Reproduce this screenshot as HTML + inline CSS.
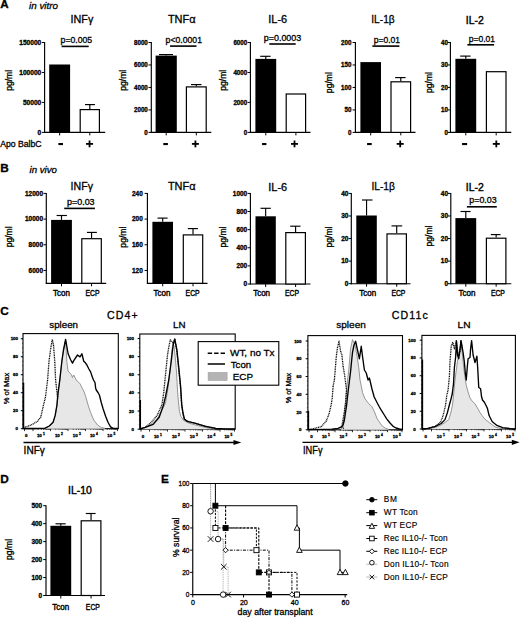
<!DOCTYPE html>
<html><head><meta charset="utf-8"><style>
html,body{margin:0;padding:0;background:#fff;}
body{width:520px;height:617px;overflow:hidden;}
svg{display:block;font-family:"Liberation Sans", sans-serif;}
text{stroke:#000;stroke-width:0.3px;}
</style></head><body>
<svg width="520" height="617" viewBox="0 0 520 617">
<rect width="520" height="617" fill="#fff"/>
<text x="0.20" y="8.10" font-size="11.6" text-anchor="start" font-weight="bold">A</text>
<text x="29.00" y="9.30" font-size="9.8" text-anchor="start" font-style="italic" textLength="29.00" lengthAdjust="spacingAndGlyphs">in vitro</text>
<text x="0.30" y="146.50" font-size="8.7" text-anchor="start" textLength="41.30" lengthAdjust="spacingAndGlyphs">Apo BalbC</text>
<rect x="58.40" y="143.00" width="4.60" height="2.10" fill="#000" stroke="none" stroke-width="1.1"/>
<rect x="86.05" y="143.00" width="7.00" height="1.80" fill="#000" stroke="none" stroke-width="1.1"/>
<rect x="88.65" y="140.50" width="1.80" height="6.80" fill="#000" stroke="none" stroke-width="1.1"/>
<line x1="44.60" y1="42.00" x2="44.60" y2="132.90" stroke="#000" stroke-width="1.15"/>
<line x1="44.10" y1="132.40" x2="105.20" y2="132.40" stroke="#000" stroke-width="1.15"/>
<line x1="41.80" y1="42.50" x2="44.60" y2="42.50" stroke="#000" stroke-width="1.0"/>
<text x="41.20" y="44.70" font-size="6.3" text-anchor="end" font-weight="bold" textLength="21.90" lengthAdjust="spacingAndGlyphs">150000</text>
<line x1="41.80" y1="72.47" x2="44.60" y2="72.47" stroke="#000" stroke-width="1.0"/>
<text x="41.20" y="74.67" font-size="6.3" text-anchor="end" font-weight="bold" textLength="21.90" lengthAdjust="spacingAndGlyphs">100000</text>
<line x1="41.80" y1="102.43" x2="44.60" y2="102.43" stroke="#000" stroke-width="1.0"/>
<text x="41.20" y="104.63" font-size="6.3" text-anchor="end" font-weight="bold" textLength="18.25" lengthAdjust="spacingAndGlyphs">50000</text>
<line x1="41.80" y1="132.40" x2="44.60" y2="132.40" stroke="#000" stroke-width="1.0"/>
<text x="41.20" y="134.60" font-size="6.3" text-anchor="end" font-weight="bold" textLength="3.65" lengthAdjust="spacingAndGlyphs">0</text>
<rect x="49.20" y="64.50" width="20.90" height="67.90" fill="#000" stroke="none" stroke-width="1.1"/>
<line x1="89.80" y1="109.00" x2="89.80" y2="104.60" stroke="#000" stroke-width="1.15"/>
<line x1="85.00" y1="104.60" x2="95.00" y2="104.60" stroke="#000" stroke-width="1.15"/>
<rect x="80.20" y="109.60" width="19.20" height="22.80" fill="#fff" stroke="#000" stroke-width="1.2"/>
<line x1="59.65" y1="132.40" x2="59.65" y2="135.40" stroke="#000" stroke-width="1.0"/>
<line x1="89.80" y1="132.40" x2="89.80" y2="135.40" stroke="#000" stroke-width="1.0"/>
<text x="81.90" y="22.70" font-size="10.7" text-anchor="middle" textLength="22.80" lengthAdjust="spacingAndGlyphs">INF&#947;</text>
<text x="60.60" y="42.90" font-size="8.8" text-anchor="start" textLength="31.60" lengthAdjust="spacingAndGlyphs">p=0.005</text>
<line x1="61.60" y1="46.40" x2="88.70" y2="46.40" stroke="#000" stroke-width="1.6"/>
<text transform="translate(11.75,80.35) rotate(-90)" x="0" y="0" font-size="8.4" text-anchor="middle" textLength="21.00" lengthAdjust="spacingAndGlyphs">pg/ml</text>
<rect x="163.30" y="143.00" width="4.60" height="2.10" fill="#000" stroke="none" stroke-width="1.1"/>
<rect x="191.90" y="143.00" width="7.00" height="1.80" fill="#000" stroke="none" stroke-width="1.1"/>
<rect x="194.50" y="140.50" width="1.80" height="6.80" fill="#000" stroke="none" stroke-width="1.1"/>
<line x1="151.30" y1="42.00" x2="151.30" y2="132.90" stroke="#000" stroke-width="1.15"/>
<line x1="150.80" y1="132.40" x2="211.30" y2="132.40" stroke="#000" stroke-width="1.15"/>
<line x1="148.50" y1="42.50" x2="151.30" y2="42.50" stroke="#000" stroke-width="1.0"/>
<text x="147.80" y="44.70" font-size="6.3" text-anchor="end" font-weight="bold" textLength="13.80" lengthAdjust="spacingAndGlyphs">8000</text>
<line x1="148.50" y1="64.97" x2="151.30" y2="64.97" stroke="#000" stroke-width="1.0"/>
<text x="147.80" y="67.17" font-size="6.3" text-anchor="end" font-weight="bold" textLength="13.80" lengthAdjust="spacingAndGlyphs">6000</text>
<line x1="148.50" y1="87.45" x2="151.30" y2="87.45" stroke="#000" stroke-width="1.0"/>
<text x="147.80" y="89.65" font-size="6.3" text-anchor="end" font-weight="bold" textLength="13.80" lengthAdjust="spacingAndGlyphs">4000</text>
<line x1="148.50" y1="109.93" x2="151.30" y2="109.93" stroke="#000" stroke-width="1.0"/>
<text x="147.80" y="112.13" font-size="6.3" text-anchor="end" font-weight="bold" textLength="13.80" lengthAdjust="spacingAndGlyphs">2000</text>
<line x1="148.50" y1="132.40" x2="151.30" y2="132.40" stroke="#000" stroke-width="1.0"/>
<text x="147.80" y="134.60" font-size="6.3" text-anchor="end" font-weight="bold" textLength="3.45" lengthAdjust="spacingAndGlyphs">0</text>
<rect x="155.60" y="55.60" width="21.20" height="76.80" fill="#000" stroke="none" stroke-width="1.1"/>
<line x1="166.20" y1="55.60" x2="166.20" y2="54.60" stroke="#000" stroke-width="1.15"/>
<line x1="159.00" y1="54.60" x2="173.00" y2="54.60" stroke="#000" stroke-width="1.15"/>
<line x1="196.30" y1="86.30" x2="196.30" y2="84.60" stroke="#000" stroke-width="1.15"/>
<line x1="191.00" y1="84.60" x2="201.50" y2="84.60" stroke="#000" stroke-width="1.15"/>
<rect x="186.40" y="86.90" width="19.80" height="45.50" fill="#fff" stroke="#000" stroke-width="1.2"/>
<line x1="166.20" y1="132.40" x2="166.20" y2="135.40" stroke="#000" stroke-width="1.0"/>
<line x1="196.30" y1="132.40" x2="196.30" y2="135.40" stroke="#000" stroke-width="1.0"/>
<text x="181.70" y="22.70" font-size="10.7" text-anchor="middle" textLength="27.60" lengthAdjust="spacingAndGlyphs">TNF&#945;</text>
<text x="165.60" y="42.50" font-size="8.8" text-anchor="start" textLength="36.40" lengthAdjust="spacingAndGlyphs">p&lt;0.0001</text>
<line x1="170.00" y1="46.10" x2="196.50" y2="46.10" stroke="#000" stroke-width="1.6"/>
<text transform="translate(126.15,80.25) rotate(-90)" x="0" y="0" font-size="8.4" text-anchor="middle" textLength="21.00" lengthAdjust="spacingAndGlyphs">pg/ml</text>
<rect x="262.10" y="143.00" width="4.30" height="2.10" fill="#000" stroke="none" stroke-width="1.1"/>
<rect x="291.00" y="143.00" width="7.00" height="1.80" fill="#000" stroke="none" stroke-width="1.1"/>
<rect x="293.60" y="140.50" width="1.80" height="6.80" fill="#000" stroke="none" stroke-width="1.1"/>
<line x1="250.40" y1="42.00" x2="250.40" y2="132.90" stroke="#000" stroke-width="1.15"/>
<line x1="249.90" y1="132.40" x2="310.50" y2="132.40" stroke="#000" stroke-width="1.15"/>
<line x1="247.60" y1="42.50" x2="250.40" y2="42.50" stroke="#000" stroke-width="1.0"/>
<text x="247.20" y="44.70" font-size="6.3" text-anchor="end" font-weight="bold" textLength="13.80" lengthAdjust="spacingAndGlyphs">6000</text>
<line x1="247.60" y1="72.47" x2="250.40" y2="72.47" stroke="#000" stroke-width="1.0"/>
<text x="247.20" y="74.67" font-size="6.3" text-anchor="end" font-weight="bold" textLength="13.80" lengthAdjust="spacingAndGlyphs">4000</text>
<line x1="247.60" y1="102.43" x2="250.40" y2="102.43" stroke="#000" stroke-width="1.0"/>
<text x="247.20" y="104.63" font-size="6.3" text-anchor="end" font-weight="bold" textLength="13.80" lengthAdjust="spacingAndGlyphs">2000</text>
<line x1="247.60" y1="132.40" x2="250.40" y2="132.40" stroke="#000" stroke-width="1.0"/>
<text x="247.20" y="134.60" font-size="6.3" text-anchor="end" font-weight="bold" textLength="3.45" lengthAdjust="spacingAndGlyphs">0</text>
<rect x="255.40" y="58.90" width="20.80" height="73.50" fill="#000" stroke="none" stroke-width="1.1"/>
<line x1="265.80" y1="58.90" x2="265.80" y2="56.30" stroke="#000" stroke-width="1.15"/>
<line x1="260.20" y1="56.30" x2="270.60" y2="56.30" stroke="#000" stroke-width="1.15"/>
<rect x="286.20" y="94.00" width="19.40" height="38.40" fill="#fff" stroke="#000" stroke-width="1.2"/>
<line x1="265.80" y1="132.40" x2="265.80" y2="135.40" stroke="#000" stroke-width="1.0"/>
<line x1="295.90" y1="132.40" x2="295.90" y2="135.40" stroke="#000" stroke-width="1.0"/>
<text x="277.70" y="22.50" font-size="10.7" text-anchor="middle" textLength="18.90" lengthAdjust="spacingAndGlyphs">IL-6</text>
<text x="263.80" y="40.60" font-size="8.9" text-anchor="start" textLength="37.40" lengthAdjust="spacingAndGlyphs">p=0.0003</text>
<line x1="269.30" y1="44.00" x2="295.70" y2="44.00" stroke="#000" stroke-width="1.6"/>
<text transform="translate(225.85,80.25) rotate(-90)" x="0" y="0" font-size="8.4" text-anchor="middle" textLength="21.00" lengthAdjust="spacingAndGlyphs">pg/ml</text>
<rect x="367.10" y="143.00" width="4.60" height="2.10" fill="#000" stroke="none" stroke-width="1.1"/>
<rect x="396.70" y="143.00" width="7.00" height="1.80" fill="#000" stroke="none" stroke-width="1.1"/>
<rect x="399.30" y="140.50" width="1.80" height="6.80" fill="#000" stroke="none" stroke-width="1.1"/>
<line x1="355.40" y1="42.00" x2="355.40" y2="132.90" stroke="#000" stroke-width="1.15"/>
<line x1="354.90" y1="132.40" x2="415.50" y2="132.40" stroke="#000" stroke-width="1.15"/>
<line x1="352.60" y1="42.50" x2="355.40" y2="42.50" stroke="#000" stroke-width="1.0"/>
<text x="351.40" y="44.70" font-size="6.3" text-anchor="end" font-weight="bold" textLength="10.35" lengthAdjust="spacingAndGlyphs">200</text>
<line x1="352.60" y1="64.97" x2="355.40" y2="64.97" stroke="#000" stroke-width="1.0"/>
<text x="351.40" y="67.17" font-size="6.3" text-anchor="end" font-weight="bold" textLength="10.35" lengthAdjust="spacingAndGlyphs">150</text>
<line x1="352.60" y1="87.45" x2="355.40" y2="87.45" stroke="#000" stroke-width="1.0"/>
<text x="351.40" y="89.65" font-size="6.3" text-anchor="end" font-weight="bold" textLength="10.35" lengthAdjust="spacingAndGlyphs">100</text>
<line x1="352.60" y1="109.93" x2="355.40" y2="109.93" stroke="#000" stroke-width="1.0"/>
<text x="351.40" y="112.13" font-size="6.3" text-anchor="end" font-weight="bold" textLength="6.90" lengthAdjust="spacingAndGlyphs">50</text>
<line x1="352.60" y1="132.40" x2="355.40" y2="132.40" stroke="#000" stroke-width="1.0"/>
<text x="351.40" y="134.60" font-size="6.3" text-anchor="end" font-weight="bold" textLength="3.45" lengthAdjust="spacingAndGlyphs">0</text>
<rect x="360.40" y="62.10" width="20.60" height="70.30" fill="#000" stroke="none" stroke-width="1.1"/>
<line x1="400.80" y1="81.20" x2="400.80" y2="77.60" stroke="#000" stroke-width="1.15"/>
<line x1="395.10" y1="77.60" x2="405.60" y2="77.60" stroke="#000" stroke-width="1.15"/>
<rect x="391.00" y="81.80" width="19.60" height="50.60" fill="#fff" stroke="#000" stroke-width="1.2"/>
<line x1="370.70" y1="132.40" x2="370.70" y2="135.40" stroke="#000" stroke-width="1.0"/>
<line x1="400.80" y1="132.40" x2="400.80" y2="135.40" stroke="#000" stroke-width="1.0"/>
<text x="383.00" y="22.70" font-size="10.7" text-anchor="middle" textLength="23.40" lengthAdjust="spacingAndGlyphs">IL-1&#946;</text>
<text x="373.80" y="43.00" font-size="8.8" text-anchor="start" textLength="26.30" lengthAdjust="spacingAndGlyphs">p=0.01</text>
<line x1="372.40" y1="46.10" x2="399.40" y2="46.10" stroke="#000" stroke-width="1.6"/>
<text transform="translate(332.35,82.65) rotate(-90)" x="0" y="0" font-size="8.4" text-anchor="middle" textLength="21.00" lengthAdjust="spacingAndGlyphs">pg/ml</text>
<rect x="462.10" y="143.00" width="5.00" height="2.10" fill="#000" stroke="none" stroke-width="1.1"/>
<rect x="492.80" y="143.00" width="7.00" height="1.80" fill="#000" stroke="none" stroke-width="1.1"/>
<rect x="495.40" y="140.50" width="1.80" height="6.80" fill="#000" stroke="none" stroke-width="1.1"/>
<line x1="450.40" y1="42.00" x2="450.40" y2="132.90" stroke="#000" stroke-width="1.15"/>
<line x1="449.90" y1="132.40" x2="511.30" y2="132.40" stroke="#000" stroke-width="1.15"/>
<line x1="447.60" y1="42.50" x2="450.40" y2="42.50" stroke="#000" stroke-width="1.0"/>
<text x="448.00" y="44.70" font-size="6.3" text-anchor="end" font-weight="bold" textLength="6.90" lengthAdjust="spacingAndGlyphs">40</text>
<line x1="447.60" y1="64.97" x2="450.40" y2="64.97" stroke="#000" stroke-width="1.0"/>
<text x="448.00" y="67.17" font-size="6.3" text-anchor="end" font-weight="bold" textLength="6.90" lengthAdjust="spacingAndGlyphs">30</text>
<line x1="447.60" y1="87.45" x2="450.40" y2="87.45" stroke="#000" stroke-width="1.0"/>
<text x="448.00" y="89.65" font-size="6.3" text-anchor="end" font-weight="bold" textLength="6.90" lengthAdjust="spacingAndGlyphs">20</text>
<line x1="447.60" y1="109.93" x2="450.40" y2="109.93" stroke="#000" stroke-width="1.0"/>
<text x="448.00" y="112.13" font-size="6.3" text-anchor="end" font-weight="bold" textLength="6.90" lengthAdjust="spacingAndGlyphs">10</text>
<line x1="447.60" y1="132.40" x2="450.40" y2="132.40" stroke="#000" stroke-width="1.0"/>
<text x="448.00" y="134.60" font-size="6.3" text-anchor="end" font-weight="bold" textLength="3.45" lengthAdjust="spacingAndGlyphs">0</text>
<rect x="455.40" y="58.80" width="20.80" height="73.60" fill="#000" stroke="none" stroke-width="1.1"/>
<line x1="465.80" y1="58.80" x2="465.80" y2="56.10" stroke="#000" stroke-width="1.15"/>
<line x1="460.20" y1="56.10" x2="470.60" y2="56.10" stroke="#000" stroke-width="1.15"/>
<rect x="486.40" y="71.70" width="19.60" height="60.70" fill="#fff" stroke="#000" stroke-width="1.2"/>
<line x1="465.80" y1="132.40" x2="465.80" y2="135.40" stroke="#000" stroke-width="1.0"/>
<line x1="496.20" y1="132.40" x2="496.20" y2="135.40" stroke="#000" stroke-width="1.0"/>
<text x="474.80" y="23.60" font-size="10.6" text-anchor="middle" style="stroke-width:0.4px" textLength="18.00" lengthAdjust="spacingAndGlyphs">IL-2</text>
<text x="468.80" y="41.60" font-size="8.8" text-anchor="start" textLength="26.30" lengthAdjust="spacingAndGlyphs">p=0.01</text>
<line x1="467.40" y1="44.80" x2="494.10" y2="44.80" stroke="#000" stroke-width="1.6"/>
<text transform="translate(432.20,82.55) rotate(-90)" x="0" y="0" font-size="8.4" text-anchor="middle" textLength="21.00" lengthAdjust="spacingAndGlyphs">pg/ml</text>
<text x="0.20" y="171.50" font-size="11.8" text-anchor="start" font-weight="bold">B</text>
<text x="29.50" y="172.80" font-size="9.8" text-anchor="start" font-style="italic" textLength="27.50" lengthAdjust="spacingAndGlyphs">in vivo</text>
<line x1="46.30" y1="192.90" x2="46.30" y2="283.80" stroke="#000" stroke-width="1.15"/>
<line x1="45.80" y1="283.30" x2="106.20" y2="283.30" stroke="#000" stroke-width="1.15"/>
<line x1="43.50" y1="193.40" x2="46.30" y2="193.40" stroke="#000" stroke-width="1.0"/>
<text x="43.00" y="195.60" font-size="6.3" text-anchor="end" font-weight="bold" textLength="18.00" lengthAdjust="spacingAndGlyphs">12000</text>
<line x1="43.50" y1="219.09" x2="46.30" y2="219.09" stroke="#000" stroke-width="1.0"/>
<text x="43.00" y="221.29" font-size="6.3" text-anchor="end" font-weight="bold" textLength="18.00" lengthAdjust="spacingAndGlyphs">10000</text>
<line x1="43.50" y1="244.77" x2="46.30" y2="244.77" stroke="#000" stroke-width="1.0"/>
<text x="43.00" y="246.97" font-size="6.3" text-anchor="end" font-weight="bold" textLength="14.40" lengthAdjust="spacingAndGlyphs">8000</text>
<line x1="43.50" y1="270.46" x2="46.30" y2="270.46" stroke="#000" stroke-width="1.0"/>
<text x="43.00" y="272.66" font-size="6.3" text-anchor="end" font-weight="bold" textLength="14.40" lengthAdjust="spacingAndGlyphs">6000</text>
<rect x="51.10" y="219.90" width="20.80" height="63.40" fill="#000" stroke="none" stroke-width="1.1"/>
<line x1="61.50" y1="219.90" x2="61.50" y2="215.50" stroke="#000" stroke-width="1.15"/>
<line x1="56.60" y1="215.50" x2="66.90" y2="215.50" stroke="#000" stroke-width="1.15"/>
<line x1="91.55" y1="238.10" x2="91.55" y2="232.40" stroke="#000" stroke-width="1.15"/>
<line x1="86.90" y1="232.40" x2="96.90" y2="232.40" stroke="#000" stroke-width="1.15"/>
<rect x="81.80" y="238.70" width="19.50" height="44.60" fill="#fff" stroke="#000" stroke-width="1.2"/>
<line x1="61.50" y1="283.30" x2="61.50" y2="286.30" stroke="#000" stroke-width="1.0"/>
<line x1="91.55" y1="283.30" x2="91.55" y2="286.30" stroke="#000" stroke-width="1.0"/>
<text x="81.80" y="189.50" font-size="10.7" text-anchor="middle" textLength="22.40" lengthAdjust="spacingAndGlyphs">INF&#947;</text>
<text x="67.00" y="204.90" font-size="8.8" text-anchor="start" textLength="27.60" lengthAdjust="spacingAndGlyphs">p=0.03</text>
<line x1="64.20" y1="208.40" x2="94.90" y2="208.40" stroke="#000" stroke-width="1.6"/>
<text transform="translate(11.60,236.85) rotate(-90)" x="0" y="0" font-size="8.4" text-anchor="middle" textLength="21.00" lengthAdjust="spacingAndGlyphs">pg/ml</text>
<text x="61.55" y="295.60" font-size="8.4" text-anchor="middle" style="stroke-width:0.4px" textLength="16.90" lengthAdjust="spacingAndGlyphs">Tcon</text>
<text x="92.50" y="295.60" font-size="8.4" text-anchor="middle" style="stroke-width:0.4px" textLength="14.00" lengthAdjust="spacingAndGlyphs">ECP</text>
<line x1="147.40" y1="192.90" x2="147.40" y2="283.80" stroke="#000" stroke-width="1.15"/>
<line x1="146.90" y1="283.30" x2="207.50" y2="283.30" stroke="#000" stroke-width="1.15"/>
<line x1="144.60" y1="193.40" x2="147.40" y2="193.40" stroke="#000" stroke-width="1.0"/>
<text x="142.80" y="195.60" font-size="6.3" text-anchor="end" font-weight="bold" textLength="10.80" lengthAdjust="spacingAndGlyphs">240</text>
<line x1="144.60" y1="219.09" x2="147.40" y2="219.09" stroke="#000" stroke-width="1.0"/>
<text x="142.80" y="221.29" font-size="6.3" text-anchor="end" font-weight="bold" textLength="10.80" lengthAdjust="spacingAndGlyphs">200</text>
<line x1="144.60" y1="244.77" x2="147.40" y2="244.77" stroke="#000" stroke-width="1.0"/>
<text x="142.80" y="246.97" font-size="6.3" text-anchor="end" font-weight="bold" textLength="10.80" lengthAdjust="spacingAndGlyphs">160</text>
<line x1="144.60" y1="270.46" x2="147.40" y2="270.46" stroke="#000" stroke-width="1.0"/>
<text x="142.80" y="272.66" font-size="6.3" text-anchor="end" font-weight="bold" textLength="10.80" lengthAdjust="spacingAndGlyphs">120</text>
<rect x="152.40" y="221.80" width="20.60" height="61.50" fill="#000" stroke="none" stroke-width="1.1"/>
<line x1="162.70" y1="221.80" x2="162.70" y2="218.10" stroke="#000" stroke-width="1.15"/>
<line x1="157.50" y1="218.10" x2="167.60" y2="218.10" stroke="#000" stroke-width="1.15"/>
<line x1="193.00" y1="234.30" x2="193.00" y2="228.60" stroke="#000" stroke-width="1.15"/>
<line x1="187.80" y1="228.60" x2="197.90" y2="228.60" stroke="#000" stroke-width="1.15"/>
<rect x="183.30" y="234.90" width="19.40" height="48.40" fill="#fff" stroke="#000" stroke-width="1.2"/>
<line x1="162.70" y1="283.30" x2="162.70" y2="286.30" stroke="#000" stroke-width="1.0"/>
<line x1="193.00" y1="283.30" x2="193.00" y2="286.30" stroke="#000" stroke-width="1.0"/>
<text x="181.70" y="189.50" font-size="10.7" text-anchor="middle" textLength="27.60" lengthAdjust="spacingAndGlyphs">TNF&#945;</text>
<text transform="translate(126.15,237.15) rotate(-90)" x="0" y="0" font-size="8.4" text-anchor="middle" textLength="21.00" lengthAdjust="spacingAndGlyphs">pg/ml</text>
<text x="162.00" y="295.60" font-size="8.4" text-anchor="middle" style="stroke-width:0.4px" textLength="16.90" lengthAdjust="spacingAndGlyphs">Tcon</text>
<text x="192.60" y="295.60" font-size="8.4" text-anchor="middle" style="stroke-width:0.4px" textLength="14.00" lengthAdjust="spacingAndGlyphs">ECP</text>
<line x1="250.40" y1="192.90" x2="250.40" y2="284.50" stroke="#000" stroke-width="1.15"/>
<line x1="249.90" y1="284.00" x2="310.50" y2="284.00" stroke="#000" stroke-width="1.15"/>
<line x1="247.60" y1="193.40" x2="250.40" y2="193.40" stroke="#000" stroke-width="1.0"/>
<text x="247.20" y="195.60" font-size="6.3" text-anchor="end" font-weight="bold" textLength="14.40" lengthAdjust="spacingAndGlyphs">1000</text>
<line x1="247.60" y1="211.52" x2="250.40" y2="211.52" stroke="#000" stroke-width="1.0"/>
<text x="247.20" y="213.72" font-size="6.3" text-anchor="end" font-weight="bold" textLength="10.80" lengthAdjust="spacingAndGlyphs">800</text>
<line x1="247.60" y1="229.64" x2="250.40" y2="229.64" stroke="#000" stroke-width="1.0"/>
<text x="247.20" y="231.84" font-size="6.3" text-anchor="end" font-weight="bold" textLength="10.80" lengthAdjust="spacingAndGlyphs">600</text>
<line x1="247.60" y1="247.76" x2="250.40" y2="247.76" stroke="#000" stroke-width="1.0"/>
<text x="247.20" y="249.96" font-size="6.3" text-anchor="end" font-weight="bold" textLength="10.80" lengthAdjust="spacingAndGlyphs">400</text>
<line x1="247.60" y1="265.88" x2="250.40" y2="265.88" stroke="#000" stroke-width="1.0"/>
<text x="247.20" y="268.08" font-size="6.3" text-anchor="end" font-weight="bold" textLength="10.80" lengthAdjust="spacingAndGlyphs">200</text>
<line x1="247.60" y1="284.00" x2="250.40" y2="284.00" stroke="#000" stroke-width="1.0"/>
<text x="247.20" y="286.20" font-size="6.3" text-anchor="end" font-weight="bold" textLength="3.60" lengthAdjust="spacingAndGlyphs">0</text>
<rect x="255.50" y="216.30" width="20.30" height="67.70" fill="#000" stroke="none" stroke-width="1.1"/>
<line x1="265.65" y1="216.30" x2="265.65" y2="208.30" stroke="#000" stroke-width="1.15"/>
<line x1="260.50" y1="208.30" x2="270.80" y2="208.30" stroke="#000" stroke-width="1.15"/>
<line x1="295.60" y1="232.00" x2="295.60" y2="226.20" stroke="#000" stroke-width="1.15"/>
<line x1="290.20" y1="226.20" x2="300.50" y2="226.20" stroke="#000" stroke-width="1.15"/>
<rect x="285.80" y="232.60" width="19.60" height="51.40" fill="#fff" stroke="#000" stroke-width="1.2"/>
<line x1="265.65" y1="284.00" x2="265.65" y2="287.00" stroke="#000" stroke-width="1.0"/>
<line x1="295.60" y1="284.00" x2="295.60" y2="287.00" stroke="#000" stroke-width="1.0"/>
<text x="277.70" y="190.60" font-size="10.7" text-anchor="middle" textLength="18.90" lengthAdjust="spacingAndGlyphs">IL-6</text>
<text transform="translate(226.00,237.00) rotate(-90)" x="0" y="0" font-size="8.4" text-anchor="middle" textLength="21.00" lengthAdjust="spacingAndGlyphs">pg/ml</text>
<text x="261.60" y="295.60" font-size="8.4" text-anchor="middle" style="stroke-width:0.4px" textLength="16.90" lengthAdjust="spacingAndGlyphs">Tcon</text>
<text x="292.00" y="295.60" font-size="8.4" text-anchor="middle" style="stroke-width:0.4px" textLength="14.00" lengthAdjust="spacingAndGlyphs">ECP</text>
<line x1="351.30" y1="192.90" x2="351.30" y2="284.20" stroke="#000" stroke-width="1.15"/>
<line x1="350.80" y1="283.70" x2="410.50" y2="283.70" stroke="#000" stroke-width="1.15"/>
<line x1="348.50" y1="193.40" x2="351.30" y2="193.40" stroke="#000" stroke-width="1.0"/>
<text x="348.40" y="195.60" font-size="6.3" text-anchor="end" font-weight="bold" textLength="7.20" lengthAdjust="spacingAndGlyphs">40</text>
<line x1="348.50" y1="215.97" x2="351.30" y2="215.97" stroke="#000" stroke-width="1.0"/>
<text x="348.40" y="218.17" font-size="6.3" text-anchor="end" font-weight="bold" textLength="7.20" lengthAdjust="spacingAndGlyphs">30</text>
<line x1="348.50" y1="238.55" x2="351.30" y2="238.55" stroke="#000" stroke-width="1.0"/>
<text x="348.40" y="240.75" font-size="6.3" text-anchor="end" font-weight="bold" textLength="7.20" lengthAdjust="spacingAndGlyphs">20</text>
<line x1="348.50" y1="261.12" x2="351.30" y2="261.12" stroke="#000" stroke-width="1.0"/>
<text x="348.40" y="263.32" font-size="6.3" text-anchor="end" font-weight="bold" textLength="7.20" lengthAdjust="spacingAndGlyphs">10</text>
<line x1="348.50" y1="283.70" x2="351.30" y2="283.70" stroke="#000" stroke-width="1.0"/>
<text x="348.40" y="285.90" font-size="6.3" text-anchor="end" font-weight="bold" textLength="3.60" lengthAdjust="spacingAndGlyphs">0</text>
<rect x="356.30" y="215.50" width="20.50" height="68.20" fill="#000" stroke="none" stroke-width="1.1"/>
<line x1="366.55" y1="215.50" x2="366.55" y2="200.00" stroke="#000" stroke-width="1.15"/>
<line x1="362.00" y1="200.00" x2="372.50" y2="200.00" stroke="#000" stroke-width="1.15"/>
<line x1="396.70" y1="233.30" x2="396.70" y2="225.90" stroke="#000" stroke-width="1.15"/>
<line x1="391.50" y1="225.90" x2="402.20" y2="225.90" stroke="#000" stroke-width="1.15"/>
<rect x="387.00" y="233.90" width="19.40" height="49.80" fill="#fff" stroke="#000" stroke-width="1.2"/>
<line x1="366.55" y1="283.70" x2="366.55" y2="286.70" stroke="#000" stroke-width="1.0"/>
<line x1="396.70" y1="283.70" x2="396.70" y2="286.70" stroke="#000" stroke-width="1.0"/>
<text x="383.20" y="189.80" font-size="10.7" text-anchor="middle" textLength="23.60" lengthAdjust="spacingAndGlyphs">IL-1&#946;</text>
<text transform="translate(332.45,237.00) rotate(-90)" x="0" y="0" font-size="8.4" text-anchor="middle" textLength="21.00" lengthAdjust="spacingAndGlyphs">pg/ml</text>
<text x="367.75" y="295.60" font-size="8.4" text-anchor="middle" style="stroke-width:0.4px" textLength="16.90" lengthAdjust="spacingAndGlyphs">Tcon</text>
<text x="398.40" y="295.60" font-size="8.4" text-anchor="middle" style="stroke-width:0.4px" textLength="14.00" lengthAdjust="spacingAndGlyphs">ECP</text>
<line x1="450.80" y1="192.90" x2="450.80" y2="284.20" stroke="#000" stroke-width="1.15"/>
<line x1="450.30" y1="283.70" x2="511.30" y2="283.70" stroke="#000" stroke-width="1.15"/>
<line x1="448.00" y1="193.40" x2="450.80" y2="193.40" stroke="#000" stroke-width="1.0"/>
<text x="448.00" y="195.60" font-size="6.3" text-anchor="end" font-weight="bold" textLength="7.20" lengthAdjust="spacingAndGlyphs">40</text>
<line x1="448.00" y1="215.97" x2="450.80" y2="215.97" stroke="#000" stroke-width="1.0"/>
<text x="448.00" y="218.17" font-size="6.3" text-anchor="end" font-weight="bold" textLength="7.20" lengthAdjust="spacingAndGlyphs">30</text>
<line x1="448.00" y1="238.55" x2="450.80" y2="238.55" stroke="#000" stroke-width="1.0"/>
<text x="448.00" y="240.75" font-size="6.3" text-anchor="end" font-weight="bold" textLength="7.20" lengthAdjust="spacingAndGlyphs">20</text>
<line x1="448.00" y1="261.12" x2="450.80" y2="261.12" stroke="#000" stroke-width="1.0"/>
<text x="448.00" y="263.32" font-size="6.3" text-anchor="end" font-weight="bold" textLength="7.20" lengthAdjust="spacingAndGlyphs">10</text>
<line x1="448.00" y1="283.70" x2="450.80" y2="283.70" stroke="#000" stroke-width="1.0"/>
<text x="448.00" y="285.90" font-size="6.3" text-anchor="end" font-weight="bold" textLength="3.60" lengthAdjust="spacingAndGlyphs">0</text>
<rect x="455.40" y="218.10" width="20.80" height="65.60" fill="#000" stroke="none" stroke-width="1.1"/>
<line x1="465.80" y1="218.10" x2="465.80" y2="211.50" stroke="#000" stroke-width="1.15"/>
<line x1="460.50" y1="211.50" x2="470.60" y2="211.50" stroke="#000" stroke-width="1.15"/>
<line x1="496.15" y1="237.60" x2="496.15" y2="234.60" stroke="#000" stroke-width="1.15"/>
<line x1="490.80" y1="234.60" x2="500.50" y2="234.60" stroke="#000" stroke-width="1.15"/>
<rect x="486.40" y="238.20" width="19.50" height="45.50" fill="#fff" stroke="#000" stroke-width="1.2"/>
<line x1="465.80" y1="283.70" x2="465.80" y2="286.70" stroke="#000" stroke-width="1.0"/>
<line x1="496.15" y1="283.70" x2="496.15" y2="286.70" stroke="#000" stroke-width="1.0"/>
<text x="474.80" y="190.50" font-size="10.6" text-anchor="middle" style="stroke-width:0.4px" textLength="18.00" lengthAdjust="spacingAndGlyphs">IL-2</text>
<text x="469.30" y="203.10" font-size="8.8" text-anchor="start" textLength="27.40" lengthAdjust="spacingAndGlyphs">p=0.03</text>
<line x1="466.90" y1="206.80" x2="496.80" y2="206.80" stroke="#000" stroke-width="1.6"/>
<text transform="translate(432.20,236.00) rotate(-90)" x="0" y="0" font-size="8.4" text-anchor="middle" textLength="21.00" lengthAdjust="spacingAndGlyphs">pg/ml</text>
<text x="466.90" y="295.60" font-size="8.4" text-anchor="middle" style="stroke-width:0.4px" textLength="16.90" lengthAdjust="spacingAndGlyphs">Tcon</text>
<text x="497.90" y="295.60" font-size="8.4" text-anchor="middle" style="stroke-width:0.4px" textLength="14.00" lengthAdjust="spacingAndGlyphs">ECP</text>
<text x="0.20" y="482.50" font-size="11.8" text-anchor="start" font-weight="bold">D</text>
<line x1="46.00" y1="505.20" x2="46.00" y2="596.00" stroke="#000" stroke-width="1.15"/>
<line x1="45.50" y1="595.50" x2="105.00" y2="595.50" stroke="#000" stroke-width="1.15"/>
<line x1="43.20" y1="505.70" x2="46.00" y2="505.70" stroke="#000" stroke-width="1.0"/>
<text x="42.20" y="507.90" font-size="6.5" text-anchor="end" font-weight="bold" textLength="10.80" lengthAdjust="spacingAndGlyphs">500</text>
<line x1="43.20" y1="523.66" x2="46.00" y2="523.66" stroke="#000" stroke-width="1.0"/>
<text x="42.20" y="525.86" font-size="6.5" text-anchor="end" font-weight="bold" textLength="10.80" lengthAdjust="spacingAndGlyphs">400</text>
<line x1="43.20" y1="541.62" x2="46.00" y2="541.62" stroke="#000" stroke-width="1.0"/>
<text x="42.20" y="543.82" font-size="6.5" text-anchor="end" font-weight="bold" textLength="10.80" lengthAdjust="spacingAndGlyphs">300</text>
<line x1="43.20" y1="559.58" x2="46.00" y2="559.58" stroke="#000" stroke-width="1.0"/>
<text x="42.20" y="561.78" font-size="6.5" text-anchor="end" font-weight="bold" textLength="10.80" lengthAdjust="spacingAndGlyphs">200</text>
<line x1="43.20" y1="577.54" x2="46.00" y2="577.54" stroke="#000" stroke-width="1.0"/>
<text x="42.20" y="579.74" font-size="6.5" text-anchor="end" font-weight="bold" textLength="10.80" lengthAdjust="spacingAndGlyphs">100</text>
<line x1="43.20" y1="595.50" x2="46.00" y2="595.50" stroke="#000" stroke-width="1.0"/>
<text x="42.20" y="597.70" font-size="6.5" text-anchor="end" font-weight="bold" textLength="3.60" lengthAdjust="spacingAndGlyphs">0</text>
<rect x="50.40" y="525.80" width="20.80" height="69.70" fill="#000" stroke="none" stroke-width="1.1"/>
<line x1="60.80" y1="525.80" x2="60.80" y2="523.80" stroke="#000" stroke-width="1.15"/>
<line x1="55.50" y1="523.80" x2="65.60" y2="523.80" stroke="#000" stroke-width="1.15"/>
<line x1="91.05" y1="520.20" x2="91.05" y2="513.50" stroke="#000" stroke-width="1.15"/>
<line x1="85.80" y1="513.50" x2="95.60" y2="513.50" stroke="#000" stroke-width="1.15"/>
<rect x="81.20" y="520.80" width="19.70" height="74.70" fill="#fff" stroke="#000" stroke-width="1.2"/>
<line x1="60.80" y1="595.50" x2="60.80" y2="598.50" stroke="#000" stroke-width="1.0"/>
<line x1="91.05" y1="595.50" x2="91.05" y2="598.50" stroke="#000" stroke-width="1.0"/>
<text x="80.00" y="493.80" font-size="10.6" text-anchor="middle" style="stroke-width:0.4px" textLength="23.80" lengthAdjust="spacingAndGlyphs">IL-10</text>
<text transform="translate(11.75,549.40) rotate(-90)" x="0" y="0" font-size="8.4" text-anchor="middle" textLength="21.00" lengthAdjust="spacingAndGlyphs">pg/ml</text>
<text x="60.65" y="610.40" font-size="8.4" text-anchor="middle" style="stroke-width:0.4px" textLength="16.90" lengthAdjust="spacingAndGlyphs">Tcon</text>
<text x="92.85" y="610.40" font-size="8.4" text-anchor="middle" style="stroke-width:0.4px" textLength="14.00" lengthAdjust="spacingAndGlyphs">ECP</text>
<text x="0.20" y="315.30" font-size="11.8" text-anchor="start" font-weight="bold">C</text>
<text x="106.9" y="318.8" font-size="10.6" style="stroke-width:0.3px" textLength="30.7" lengthAdjust="spacing">CD4+</text>
<text x="391.7" y="318.8" font-size="10.6" style="stroke-width:0.3px" textLength="36.2" lengthAdjust="spacing">CD11c</text>
<text x="49.30" y="327.80" font-size="9.8" text-anchor="start" textLength="28.70" lengthAdjust="spacingAndGlyphs">spleen</text>
<text x="173.00" y="328.40" font-size="9.8" text-anchor="start" textLength="12.50" lengthAdjust="spacingAndGlyphs">LN</text>
<text x="336.30" y="327.80" font-size="9.8" text-anchor="start" textLength="29.50" lengthAdjust="spacingAndGlyphs">spleen</text>
<text x="457.50" y="328.40" font-size="9.8" text-anchor="start" textLength="13.00" lengthAdjust="spacingAndGlyphs">LN</text>
<text transform="translate(9.30,388.50) rotate(-90)" x="0" y="0" font-size="7.8" text-anchor="middle" textLength="31.50" lengthAdjust="spacingAndGlyphs">% of Max</text>
<text transform="translate(291.40,388.00) rotate(-90)" x="0" y="0" font-size="7.8" text-anchor="middle" textLength="30.50" lengthAdjust="spacingAndGlyphs">% of Max</text>
<line x1="23.50" y1="442.50" x2="236.00" y2="442.50" stroke="#000" stroke-width="1.3"/>
<path d="M233.5,439.9 L241.3,442.5 L233.5,445.1 Z" fill="#000"/>
<line x1="302.50" y1="442.30" x2="514.00" y2="442.30" stroke="#000" stroke-width="1.3"/>
<path d="M511.8,439.7 L519.6,442.3 L511.8,444.9 Z" fill="#000"/>
<text x="23.60" y="454.40" font-size="10.0" text-anchor="start" textLength="21.30" lengthAdjust="spacingAndGlyphs">INF&#947;</text>
<text x="303.00" y="454.00" font-size="10.0" text-anchor="start" textLength="19.50" lengthAdjust="spacingAndGlyphs">INF&#947;</text>
<rect x="23.00" y="333.60" width="95.30" height="95.10" fill="none" stroke="#000" stroke-width="1.1"/>
<line x1="20.80" y1="338.75" x2="23.00" y2="338.75" stroke="#000" stroke-width="1.0"/>
<text x="18.00" y="340.25" font-size="4.4" text-anchor="end" font-weight="bold">100</text>
<line x1="20.80" y1="356.74" x2="23.00" y2="356.74" stroke="#000" stroke-width="1.0"/>
<text x="18.00" y="358.24" font-size="4.4" text-anchor="end" font-weight="bold">80</text>
<line x1="20.80" y1="374.73" x2="23.00" y2="374.73" stroke="#000" stroke-width="1.0"/>
<text x="18.00" y="376.23" font-size="4.4" text-anchor="end" font-weight="bold">60</text>
<line x1="20.80" y1="392.72" x2="23.00" y2="392.72" stroke="#000" stroke-width="1.0"/>
<text x="18.00" y="394.22" font-size="4.4" text-anchor="end" font-weight="bold">40</text>
<line x1="20.80" y1="410.71" x2="23.00" y2="410.71" stroke="#000" stroke-width="1.0"/>
<text x="18.00" y="412.21" font-size="4.4" text-anchor="end" font-weight="bold">20</text>
<line x1="20.80" y1="428.70" x2="23.00" y2="428.70" stroke="#000" stroke-width="1.0"/>
<text x="18.00" y="430.20" font-size="4.4" text-anchor="end" font-weight="bold">0</text>
<line x1="22.00" y1="338.75" x2="23.00" y2="338.75" stroke="#000" stroke-width="0.6"/>
<line x1="22.00" y1="343.25" x2="23.00" y2="343.25" stroke="#000" stroke-width="0.6"/>
<line x1="22.00" y1="347.75" x2="23.00" y2="347.75" stroke="#000" stroke-width="0.6"/>
<line x1="22.00" y1="352.24" x2="23.00" y2="352.24" stroke="#000" stroke-width="0.6"/>
<line x1="22.00" y1="356.74" x2="23.00" y2="356.74" stroke="#000" stroke-width="0.6"/>
<line x1="22.00" y1="361.24" x2="23.00" y2="361.24" stroke="#000" stroke-width="0.6"/>
<line x1="22.00" y1="365.74" x2="23.00" y2="365.74" stroke="#000" stroke-width="0.6"/>
<line x1="22.00" y1="370.23" x2="23.00" y2="370.23" stroke="#000" stroke-width="0.6"/>
<line x1="22.00" y1="374.73" x2="23.00" y2="374.73" stroke="#000" stroke-width="0.6"/>
<line x1="22.00" y1="379.23" x2="23.00" y2="379.23" stroke="#000" stroke-width="0.6"/>
<line x1="22.00" y1="383.73" x2="23.00" y2="383.73" stroke="#000" stroke-width="0.6"/>
<line x1="22.00" y1="388.22" x2="23.00" y2="388.22" stroke="#000" stroke-width="0.6"/>
<line x1="22.00" y1="392.72" x2="23.00" y2="392.72" stroke="#000" stroke-width="0.6"/>
<line x1="22.00" y1="397.22" x2="23.00" y2="397.22" stroke="#000" stroke-width="0.6"/>
<line x1="22.00" y1="401.71" x2="23.00" y2="401.71" stroke="#000" stroke-width="0.6"/>
<line x1="22.00" y1="406.21" x2="23.00" y2="406.21" stroke="#000" stroke-width="0.6"/>
<line x1="22.00" y1="410.71" x2="23.00" y2="410.71" stroke="#000" stroke-width="0.6"/>
<line x1="22.00" y1="415.21" x2="23.00" y2="415.21" stroke="#000" stroke-width="0.6"/>
<line x1="22.00" y1="419.70" x2="23.00" y2="419.70" stroke="#000" stroke-width="0.6"/>
<line x1="22.00" y1="424.20" x2="23.00" y2="424.20" stroke="#000" stroke-width="0.6"/>
<text x="26.30" y="437.10" font-size="4.4" text-anchor="middle" font-weight="bold">0</text>
<text x="36.90" y="437.10" font-size="4.4" font-weight="bold">10<tspan dx="1.3" dy="-2.2" font-size="3.2">1</tspan></text>
<text x="54.90" y="437.10" font-size="4.4" font-weight="bold">10<tspan dx="1.3" dy="-2.2" font-size="3.2">2</tspan></text>
<text x="72.70" y="437.10" font-size="4.4" font-weight="bold">10<tspan dx="1.3" dy="-2.2" font-size="3.2">3</tspan></text>
<text x="89.90" y="437.10" font-size="4.4" font-weight="bold">10<tspan dx="1.3" dy="-2.2" font-size="3.2">4</tspan></text>
<text x="107.20" y="437.10" font-size="4.4" font-weight="bold">10<tspan dx="1.3" dy="-2.2" font-size="3.2">5</tspan></text>
<line x1="24.50" y1="428.70" x2="24.50" y2="431.10" stroke="#000" stroke-width="0.8"/>
<line x1="33.00" y1="428.70" x2="33.00" y2="431.10" stroke="#000" stroke-width="0.8"/>
<line x1="38.27" y1="428.70" x2="38.27" y2="430.00" stroke="#000" stroke-width="0.6"/>
<line x1="41.35" y1="428.70" x2="41.35" y2="430.00" stroke="#000" stroke-width="0.6"/>
<line x1="43.54" y1="428.70" x2="43.54" y2="430.00" stroke="#000" stroke-width="0.6"/>
<line x1="45.23" y1="428.70" x2="45.23" y2="430.00" stroke="#000" stroke-width="0.6"/>
<line x1="46.62" y1="428.70" x2="46.62" y2="430.00" stroke="#000" stroke-width="0.6"/>
<line x1="47.79" y1="428.70" x2="47.79" y2="430.00" stroke="#000" stroke-width="0.6"/>
<line x1="48.80" y1="428.70" x2="48.80" y2="430.00" stroke="#000" stroke-width="0.6"/>
<line x1="49.70" y1="428.70" x2="49.70" y2="430.00" stroke="#000" stroke-width="0.6"/>
<line x1="50.50" y1="428.70" x2="50.50" y2="431.10" stroke="#000" stroke-width="0.8"/>
<line x1="55.77" y1="428.70" x2="55.77" y2="430.00" stroke="#000" stroke-width="0.6"/>
<line x1="58.85" y1="428.70" x2="58.85" y2="430.00" stroke="#000" stroke-width="0.6"/>
<line x1="61.04" y1="428.70" x2="61.04" y2="430.00" stroke="#000" stroke-width="0.6"/>
<line x1="62.73" y1="428.70" x2="62.73" y2="430.00" stroke="#000" stroke-width="0.6"/>
<line x1="64.12" y1="428.70" x2="64.12" y2="430.00" stroke="#000" stroke-width="0.6"/>
<line x1="65.29" y1="428.70" x2="65.29" y2="430.00" stroke="#000" stroke-width="0.6"/>
<line x1="66.30" y1="428.70" x2="66.30" y2="430.00" stroke="#000" stroke-width="0.6"/>
<line x1="67.20" y1="428.70" x2="67.20" y2="430.00" stroke="#000" stroke-width="0.6"/>
<line x1="68.00" y1="428.70" x2="68.00" y2="431.10" stroke="#000" stroke-width="0.8"/>
<line x1="73.27" y1="428.70" x2="73.27" y2="430.00" stroke="#000" stroke-width="0.6"/>
<line x1="76.35" y1="428.70" x2="76.35" y2="430.00" stroke="#000" stroke-width="0.6"/>
<line x1="78.54" y1="428.70" x2="78.54" y2="430.00" stroke="#000" stroke-width="0.6"/>
<line x1="80.23" y1="428.70" x2="80.23" y2="430.00" stroke="#000" stroke-width="0.6"/>
<line x1="81.62" y1="428.70" x2="81.62" y2="430.00" stroke="#000" stroke-width="0.6"/>
<line x1="82.79" y1="428.70" x2="82.79" y2="430.00" stroke="#000" stroke-width="0.6"/>
<line x1="83.80" y1="428.70" x2="83.80" y2="430.00" stroke="#000" stroke-width="0.6"/>
<line x1="84.70" y1="428.70" x2="84.70" y2="430.00" stroke="#000" stroke-width="0.6"/>
<line x1="85.50" y1="428.70" x2="85.50" y2="431.10" stroke="#000" stroke-width="0.8"/>
<line x1="90.77" y1="428.70" x2="90.77" y2="430.00" stroke="#000" stroke-width="0.6"/>
<line x1="93.85" y1="428.70" x2="93.85" y2="430.00" stroke="#000" stroke-width="0.6"/>
<line x1="96.04" y1="428.70" x2="96.04" y2="430.00" stroke="#000" stroke-width="0.6"/>
<line x1="97.73" y1="428.70" x2="97.73" y2="430.00" stroke="#000" stroke-width="0.6"/>
<line x1="99.12" y1="428.70" x2="99.12" y2="430.00" stroke="#000" stroke-width="0.6"/>
<line x1="100.29" y1="428.70" x2="100.29" y2="430.00" stroke="#000" stroke-width="0.6"/>
<line x1="101.30" y1="428.70" x2="101.30" y2="430.00" stroke="#000" stroke-width="0.6"/>
<line x1="102.20" y1="428.70" x2="102.20" y2="430.00" stroke="#000" stroke-width="0.6"/>
<line x1="103.00" y1="428.70" x2="103.00" y2="431.10" stroke="#000" stroke-width="0.8"/>
<line x1="107.36" y1="428.70" x2="107.36" y2="430.00" stroke="#000" stroke-width="0.6"/>
<line x1="109.92" y1="428.70" x2="109.92" y2="430.00" stroke="#000" stroke-width="0.6"/>
<line x1="111.73" y1="428.70" x2="111.73" y2="430.00" stroke="#000" stroke-width="0.6"/>
<line x1="113.14" y1="428.70" x2="113.14" y2="430.00" stroke="#000" stroke-width="0.6"/>
<line x1="114.28" y1="428.70" x2="114.28" y2="430.00" stroke="#000" stroke-width="0.6"/>
<line x1="115.25" y1="428.70" x2="115.25" y2="430.00" stroke="#000" stroke-width="0.6"/>
<line x1="116.09" y1="428.70" x2="116.09" y2="430.00" stroke="#000" stroke-width="0.6"/>
<line x1="116.84" y1="428.70" x2="116.84" y2="430.00" stroke="#000" stroke-width="0.6"/>
<line x1="117.50" y1="428.70" x2="117.50" y2="431.10" stroke="#000" stroke-width="0.8"/>
<line x1="23.50" y1="382.70" x2="23.50" y2="428.70" stroke="#000" stroke-width="1.5"/>
<path d="M45.00,428.70 L45.00,428.50 L49.30,426.00 L53.10,422.20 L55.20,415.40 L56.90,405.30 L58.10,392.60 L59.80,380.00 L60.90,370.00 L61.90,361.00 L63.50,350.00 L65.60,339.80 L66.90,362.50 L68.10,371.25 L71.25,374.40 L72.50,377.50 L73.75,375.00 L76.25,380.00 L80.00,383.75 L82.50,388.75 L83.75,391.00 L85.60,396.25 L88.10,405.00 L90.60,412.50 L93.75,420.00 L97.50,425.00 L101.25,427.50 L105.00,428.30 L105.00,428.70 Z" stroke="none" stroke-width="0" fill="#e7e7e7" stroke-linejoin="round"/>
<path d="M45.00,428.50 L49.30,426.00 L53.10,422.20 L55.20,415.40 L56.90,405.30 L58.10,392.60 L59.80,380.00 L60.90,370.00 L61.90,361.00 L63.50,350.00 L65.60,339.80 L66.90,362.50 L68.10,371.25 L71.25,374.40 L72.50,377.50 L73.75,375.00 L76.25,380.00 L80.00,383.75 L82.50,388.75 L83.75,391.00 L85.60,396.25 L88.10,405.00 L90.60,412.50 L93.75,420.00 L97.50,425.00 L101.25,427.50 L105.00,428.30" stroke="#8a8a8a" stroke-width="0.9" fill="none" stroke-linejoin="round"/>
<path d="M23.50,428.20 L25.00,427.20 L31.25,425.00 L37.50,421.25 L40.80,417.10 L43.40,405.30 L45.50,396.90 L47.60,380.00 L49.00,361.25 L50.50,350.00 L52.25,339.40 L53.50,345.00 L54.75,361.00 L55.60,380.00 L57.30,395.20 L57.60,399.00" stroke="#000" stroke-width="1.3" fill="none" stroke-linejoin="round" stroke-dasharray="1.0,0.7"/>
<path d="M23.50,428.50 L35.00,428.50 L45.00,428.10 L49.30,426.00 L53.10,422.20 L55.20,415.40 L56.90,405.30 L58.10,392.60 L59.80,380.00 L60.90,370.00 L61.90,361.00 L63.50,350.00 L65.60,339.40 L68.10,353.75 L70.50,359.50 L72.50,363.10 L73.75,360.60 L77.50,355.00 L80.00,356.90 L81.90,353.75 L83.75,361.25 L85.60,363.10 L86.90,365.00 L88.75,368.75 L90.60,371.90 L92.50,377.50 L93.50,380.00 L95.00,382.50 L95.60,388.00 L96.25,390.00 L98.00,392.50 L99.40,395.00 L101.25,402.50 L103.10,408.75 L105.60,416.25 L108.10,422.50 L110.60,426.90 L113.10,428.30 L118.00,428.30" stroke="#000" stroke-width="1.35" fill="none" stroke-linejoin="round"/>
<rect x="139.80" y="334.00" width="95.40" height="95.20" fill="none" stroke="#000" stroke-width="1.1"/>
<line x1="137.60" y1="338.50" x2="139.80" y2="338.50" stroke="#000" stroke-width="1.0"/>
<text x="134.00" y="340.00" font-size="4.4" text-anchor="end" font-weight="bold">100</text>
<line x1="137.60" y1="356.64" x2="139.80" y2="356.64" stroke="#000" stroke-width="1.0"/>
<text x="134.00" y="358.14" font-size="4.4" text-anchor="end" font-weight="bold">80</text>
<line x1="137.60" y1="374.78" x2="139.80" y2="374.78" stroke="#000" stroke-width="1.0"/>
<text x="134.00" y="376.28" font-size="4.4" text-anchor="end" font-weight="bold">60</text>
<line x1="137.60" y1="392.92" x2="139.80" y2="392.92" stroke="#000" stroke-width="1.0"/>
<text x="134.00" y="394.42" font-size="4.4" text-anchor="end" font-weight="bold">40</text>
<line x1="137.60" y1="411.06" x2="139.80" y2="411.06" stroke="#000" stroke-width="1.0"/>
<text x="134.00" y="412.56" font-size="4.4" text-anchor="end" font-weight="bold">20</text>
<line x1="137.60" y1="429.20" x2="139.80" y2="429.20" stroke="#000" stroke-width="1.0"/>
<text x="134.00" y="430.70" font-size="4.4" text-anchor="end" font-weight="bold">0</text>
<line x1="138.80" y1="338.50" x2="139.80" y2="338.50" stroke="#000" stroke-width="0.6"/>
<line x1="138.80" y1="343.04" x2="139.80" y2="343.04" stroke="#000" stroke-width="0.6"/>
<line x1="138.80" y1="347.57" x2="139.80" y2="347.57" stroke="#000" stroke-width="0.6"/>
<line x1="138.80" y1="352.11" x2="139.80" y2="352.11" stroke="#000" stroke-width="0.6"/>
<line x1="138.80" y1="356.64" x2="139.80" y2="356.64" stroke="#000" stroke-width="0.6"/>
<line x1="138.80" y1="361.18" x2="139.80" y2="361.18" stroke="#000" stroke-width="0.6"/>
<line x1="138.80" y1="365.71" x2="139.80" y2="365.71" stroke="#000" stroke-width="0.6"/>
<line x1="138.80" y1="370.25" x2="139.80" y2="370.25" stroke="#000" stroke-width="0.6"/>
<line x1="138.80" y1="374.78" x2="139.80" y2="374.78" stroke="#000" stroke-width="0.6"/>
<line x1="138.80" y1="379.31" x2="139.80" y2="379.31" stroke="#000" stroke-width="0.6"/>
<line x1="138.80" y1="383.85" x2="139.80" y2="383.85" stroke="#000" stroke-width="0.6"/>
<line x1="138.80" y1="388.38" x2="139.80" y2="388.38" stroke="#000" stroke-width="0.6"/>
<line x1="138.80" y1="392.92" x2="139.80" y2="392.92" stroke="#000" stroke-width="0.6"/>
<line x1="138.80" y1="397.45" x2="139.80" y2="397.45" stroke="#000" stroke-width="0.6"/>
<line x1="138.80" y1="401.99" x2="139.80" y2="401.99" stroke="#000" stroke-width="0.6"/>
<line x1="138.80" y1="406.52" x2="139.80" y2="406.52" stroke="#000" stroke-width="0.6"/>
<line x1="138.80" y1="411.06" x2="139.80" y2="411.06" stroke="#000" stroke-width="0.6"/>
<line x1="138.80" y1="415.60" x2="139.80" y2="415.60" stroke="#000" stroke-width="0.6"/>
<line x1="138.80" y1="420.13" x2="139.80" y2="420.13" stroke="#000" stroke-width="0.6"/>
<line x1="138.80" y1="424.66" x2="139.80" y2="424.66" stroke="#000" stroke-width="0.6"/>
<text x="143.10" y="437.80" font-size="4.4" text-anchor="middle" font-weight="bold">0</text>
<text x="153.90" y="437.80" font-size="4.4" font-weight="bold">10<tspan dx="1.3" dy="-2.2" font-size="3.2">1</tspan></text>
<text x="171.90" y="437.80" font-size="4.4" font-weight="bold">10<tspan dx="1.3" dy="-2.2" font-size="3.2">2</tspan></text>
<text x="189.70" y="437.80" font-size="4.4" font-weight="bold">10<tspan dx="1.3" dy="-2.2" font-size="3.2">3</tspan></text>
<text x="207.20" y="437.80" font-size="4.4" font-weight="bold">10<tspan dx="1.3" dy="-2.2" font-size="3.2">4</tspan></text>
<text x="224.40" y="437.80" font-size="4.4" font-weight="bold">10<tspan dx="1.3" dy="-2.2" font-size="3.2">5</tspan></text>
<line x1="141.00" y1="429.20" x2="141.00" y2="431.60" stroke="#000" stroke-width="0.8"/>
<line x1="149.50" y1="429.20" x2="149.50" y2="431.60" stroke="#000" stroke-width="0.8"/>
<line x1="154.92" y1="429.20" x2="154.92" y2="430.50" stroke="#000" stroke-width="0.6"/>
<line x1="158.09" y1="429.20" x2="158.09" y2="430.50" stroke="#000" stroke-width="0.6"/>
<line x1="160.34" y1="429.20" x2="160.34" y2="430.50" stroke="#000" stroke-width="0.6"/>
<line x1="162.08" y1="429.20" x2="162.08" y2="430.50" stroke="#000" stroke-width="0.6"/>
<line x1="163.51" y1="429.20" x2="163.51" y2="430.50" stroke="#000" stroke-width="0.6"/>
<line x1="164.71" y1="429.20" x2="164.71" y2="430.50" stroke="#000" stroke-width="0.6"/>
<line x1="165.76" y1="429.20" x2="165.76" y2="430.50" stroke="#000" stroke-width="0.6"/>
<line x1="166.68" y1="429.20" x2="166.68" y2="430.50" stroke="#000" stroke-width="0.6"/>
<line x1="167.50" y1="429.20" x2="167.50" y2="431.60" stroke="#000" stroke-width="0.8"/>
<line x1="172.77" y1="429.20" x2="172.77" y2="430.50" stroke="#000" stroke-width="0.6"/>
<line x1="175.85" y1="429.20" x2="175.85" y2="430.50" stroke="#000" stroke-width="0.6"/>
<line x1="178.04" y1="429.20" x2="178.04" y2="430.50" stroke="#000" stroke-width="0.6"/>
<line x1="179.73" y1="429.20" x2="179.73" y2="430.50" stroke="#000" stroke-width="0.6"/>
<line x1="181.12" y1="429.20" x2="181.12" y2="430.50" stroke="#000" stroke-width="0.6"/>
<line x1="182.29" y1="429.20" x2="182.29" y2="430.50" stroke="#000" stroke-width="0.6"/>
<line x1="183.30" y1="429.20" x2="183.30" y2="430.50" stroke="#000" stroke-width="0.6"/>
<line x1="184.20" y1="429.20" x2="184.20" y2="430.50" stroke="#000" stroke-width="0.6"/>
<line x1="185.00" y1="429.20" x2="185.00" y2="431.60" stroke="#000" stroke-width="0.8"/>
<line x1="190.27" y1="429.20" x2="190.27" y2="430.50" stroke="#000" stroke-width="0.6"/>
<line x1="193.35" y1="429.20" x2="193.35" y2="430.50" stroke="#000" stroke-width="0.6"/>
<line x1="195.54" y1="429.20" x2="195.54" y2="430.50" stroke="#000" stroke-width="0.6"/>
<line x1="197.23" y1="429.20" x2="197.23" y2="430.50" stroke="#000" stroke-width="0.6"/>
<line x1="198.62" y1="429.20" x2="198.62" y2="430.50" stroke="#000" stroke-width="0.6"/>
<line x1="199.79" y1="429.20" x2="199.79" y2="430.50" stroke="#000" stroke-width="0.6"/>
<line x1="200.80" y1="429.20" x2="200.80" y2="430.50" stroke="#000" stroke-width="0.6"/>
<line x1="201.70" y1="429.20" x2="201.70" y2="430.50" stroke="#000" stroke-width="0.6"/>
<line x1="202.50" y1="429.20" x2="202.50" y2="431.60" stroke="#000" stroke-width="0.8"/>
<line x1="207.77" y1="429.20" x2="207.77" y2="430.50" stroke="#000" stroke-width="0.6"/>
<line x1="210.85" y1="429.20" x2="210.85" y2="430.50" stroke="#000" stroke-width="0.6"/>
<line x1="213.04" y1="429.20" x2="213.04" y2="430.50" stroke="#000" stroke-width="0.6"/>
<line x1="214.73" y1="429.20" x2="214.73" y2="430.50" stroke="#000" stroke-width="0.6"/>
<line x1="216.12" y1="429.20" x2="216.12" y2="430.50" stroke="#000" stroke-width="0.6"/>
<line x1="217.29" y1="429.20" x2="217.29" y2="430.50" stroke="#000" stroke-width="0.6"/>
<line x1="218.30" y1="429.20" x2="218.30" y2="430.50" stroke="#000" stroke-width="0.6"/>
<line x1="219.20" y1="429.20" x2="219.20" y2="430.50" stroke="#000" stroke-width="0.6"/>
<line x1="220.00" y1="429.20" x2="220.00" y2="431.60" stroke="#000" stroke-width="0.8"/>
<line x1="224.36" y1="429.20" x2="224.36" y2="430.50" stroke="#000" stroke-width="0.6"/>
<line x1="226.92" y1="429.20" x2="226.92" y2="430.50" stroke="#000" stroke-width="0.6"/>
<line x1="228.73" y1="429.20" x2="228.73" y2="430.50" stroke="#000" stroke-width="0.6"/>
<line x1="230.14" y1="429.20" x2="230.14" y2="430.50" stroke="#000" stroke-width="0.6"/>
<line x1="231.28" y1="429.20" x2="231.28" y2="430.50" stroke="#000" stroke-width="0.6"/>
<line x1="232.25" y1="429.20" x2="232.25" y2="430.50" stroke="#000" stroke-width="0.6"/>
<line x1="233.09" y1="429.20" x2="233.09" y2="430.50" stroke="#000" stroke-width="0.6"/>
<line x1="233.84" y1="429.20" x2="233.84" y2="430.50" stroke="#000" stroke-width="0.6"/>
<line x1="234.50" y1="429.20" x2="234.50" y2="431.60" stroke="#000" stroke-width="0.8"/>
<line x1="140.30" y1="400.00" x2="140.30" y2="429.20" stroke="#000" stroke-width="1.5"/>
<path d="M142.00,429.20 L142.00,428.80 L150.00,425.20 L157.00,419.00 L161.00,412.00 L165.50,403.00 L168.00,388.00 L170.30,368.00 L171.80,352.00 L172.80,342.50 L174.00,346.00 L175.30,358.00 L176.50,372.00 L177.20,385.00 L178.00,397.00 L179.40,411.30 L181.00,416.50 L183.50,420.40 L189.00,423.20 L195.60,425.00 L207.70,428.00 L215.00,428.80 L215.00,429.20 Z" stroke="none" stroke-width="0" fill="#e7e7e7" stroke-linejoin="round"/>
<path d="M142.00,428.80 L150.00,425.20 L157.00,419.00 L161.00,412.00 L165.50,403.00 L168.00,388.00 L170.30,368.00 L171.80,352.00 L172.80,342.50 L174.00,346.00 L175.30,358.00 L176.50,372.00 L177.20,385.00 L178.00,397.00 L179.40,411.30 L181.00,416.50 L183.50,420.40 L189.00,423.20 L195.60,425.00 L207.70,428.00 L215.00,428.80" stroke="#8a8a8a" stroke-width="0.9" fill="none" stroke-linejoin="round"/>
<path d="M140.20,428.60 L145.00,427.60 L151.20,422.40 L157.20,415.30 L160.50,408.00 L161.90,405.00 L163.75,392.50 L165.60,373.75 L167.50,355.00 L169.00,346.00 L170.25,340.00 L171.50,341.50 L173.60,343.00 L174.75,339.50 L176.70,350.00 L178.55,367.50 L180.40,386.25 L181.60,405.00 L182.80,413.00 L184.30,419.30 L187.50,421.40 L195.60,423.40 L205.70,426.40 L215.80,428.40" stroke="#000" stroke-width="1.3" fill="none" stroke-linejoin="round" stroke-dasharray="1.0,0.7"/>
<path d="M140.20,428.80 L145.10,427.40 L153.20,424.40 L159.20,417.30 L163.50,405.00 L165.60,396.25 L168.75,380.00 L171.25,361.25 L172.50,350.00 L173.60,343.00 L174.75,339.00 L176.90,350.00 L178.75,367.50 L180.60,386.25 L181.80,405.00 L183.00,413.00 L184.50,419.30 L187.50,421.40 L195.60,423.40 L205.70,426.40 L215.80,428.40 L225.00,428.80 L235.00,428.80" stroke="#000" stroke-width="1.35" fill="none" stroke-linejoin="round"/>
<rect x="307.90" y="335.60" width="94.60" height="94.20" fill="none" stroke="#000" stroke-width="1.1"/>
<line x1="305.70" y1="341.00" x2="307.90" y2="341.00" stroke="#000" stroke-width="1.0"/>
<text x="301.50" y="342.50" font-size="4.4" text-anchor="end" font-weight="bold">100</text>
<line x1="305.70" y1="358.76" x2="307.90" y2="358.76" stroke="#000" stroke-width="1.0"/>
<text x="301.50" y="360.26" font-size="4.4" text-anchor="end" font-weight="bold">80</text>
<line x1="305.70" y1="376.52" x2="307.90" y2="376.52" stroke="#000" stroke-width="1.0"/>
<text x="301.50" y="378.02" font-size="4.4" text-anchor="end" font-weight="bold">60</text>
<line x1="305.70" y1="394.28" x2="307.90" y2="394.28" stroke="#000" stroke-width="1.0"/>
<text x="301.50" y="395.78" font-size="4.4" text-anchor="end" font-weight="bold">40</text>
<line x1="305.70" y1="412.04" x2="307.90" y2="412.04" stroke="#000" stroke-width="1.0"/>
<text x="301.50" y="413.54" font-size="4.4" text-anchor="end" font-weight="bold">20</text>
<line x1="305.70" y1="429.80" x2="307.90" y2="429.80" stroke="#000" stroke-width="1.0"/>
<text x="301.50" y="431.30" font-size="4.4" text-anchor="end" font-weight="bold">0</text>
<line x1="306.90" y1="341.00" x2="307.90" y2="341.00" stroke="#000" stroke-width="0.6"/>
<line x1="306.90" y1="345.44" x2="307.90" y2="345.44" stroke="#000" stroke-width="0.6"/>
<line x1="306.90" y1="349.88" x2="307.90" y2="349.88" stroke="#000" stroke-width="0.6"/>
<line x1="306.90" y1="354.32" x2="307.90" y2="354.32" stroke="#000" stroke-width="0.6"/>
<line x1="306.90" y1="358.76" x2="307.90" y2="358.76" stroke="#000" stroke-width="0.6"/>
<line x1="306.90" y1="363.20" x2="307.90" y2="363.20" stroke="#000" stroke-width="0.6"/>
<line x1="306.90" y1="367.64" x2="307.90" y2="367.64" stroke="#000" stroke-width="0.6"/>
<line x1="306.90" y1="372.08" x2="307.90" y2="372.08" stroke="#000" stroke-width="0.6"/>
<line x1="306.90" y1="376.52" x2="307.90" y2="376.52" stroke="#000" stroke-width="0.6"/>
<line x1="306.90" y1="380.96" x2="307.90" y2="380.96" stroke="#000" stroke-width="0.6"/>
<line x1="306.90" y1="385.40" x2="307.90" y2="385.40" stroke="#000" stroke-width="0.6"/>
<line x1="306.90" y1="389.84" x2="307.90" y2="389.84" stroke="#000" stroke-width="0.6"/>
<line x1="306.90" y1="394.28" x2="307.90" y2="394.28" stroke="#000" stroke-width="0.6"/>
<line x1="306.90" y1="398.72" x2="307.90" y2="398.72" stroke="#000" stroke-width="0.6"/>
<line x1="306.90" y1="403.16" x2="307.90" y2="403.16" stroke="#000" stroke-width="0.6"/>
<line x1="306.90" y1="407.60" x2="307.90" y2="407.60" stroke="#000" stroke-width="0.6"/>
<line x1="306.90" y1="412.04" x2="307.90" y2="412.04" stroke="#000" stroke-width="0.6"/>
<line x1="306.90" y1="416.48" x2="307.90" y2="416.48" stroke="#000" stroke-width="0.6"/>
<line x1="306.90" y1="420.92" x2="307.90" y2="420.92" stroke="#000" stroke-width="0.6"/>
<line x1="306.90" y1="425.36" x2="307.90" y2="425.36" stroke="#000" stroke-width="0.6"/>
<text x="311.60" y="438.00" font-size="4.4" text-anchor="middle" font-weight="bold">0</text>
<text x="321.90" y="438.00" font-size="4.4" font-weight="bold">10<tspan dx="1.3" dy="-2.2" font-size="3.2">1</tspan></text>
<text x="339.40" y="438.00" font-size="4.4" font-weight="bold">10<tspan dx="1.3" dy="-2.2" font-size="3.2">2</tspan></text>
<text x="357.90" y="438.00" font-size="4.4" font-weight="bold">10<tspan dx="1.3" dy="-2.2" font-size="3.2">3</tspan></text>
<text x="374.90" y="438.00" font-size="4.4" font-weight="bold">10<tspan dx="1.3" dy="-2.2" font-size="3.2">4</tspan></text>
<text x="392.70" y="438.00" font-size="4.4" font-weight="bold">10<tspan dx="1.3" dy="-2.2" font-size="3.2">5</tspan></text>
<line x1="309.00" y1="429.80" x2="309.00" y2="432.20" stroke="#000" stroke-width="0.8"/>
<line x1="317.50" y1="429.80" x2="317.50" y2="432.20" stroke="#000" stroke-width="0.8"/>
<line x1="322.77" y1="429.80" x2="322.77" y2="431.10" stroke="#000" stroke-width="0.6"/>
<line x1="325.85" y1="429.80" x2="325.85" y2="431.10" stroke="#000" stroke-width="0.6"/>
<line x1="328.04" y1="429.80" x2="328.04" y2="431.10" stroke="#000" stroke-width="0.6"/>
<line x1="329.73" y1="429.80" x2="329.73" y2="431.10" stroke="#000" stroke-width="0.6"/>
<line x1="331.12" y1="429.80" x2="331.12" y2="431.10" stroke="#000" stroke-width="0.6"/>
<line x1="332.29" y1="429.80" x2="332.29" y2="431.10" stroke="#000" stroke-width="0.6"/>
<line x1="333.30" y1="429.80" x2="333.30" y2="431.10" stroke="#000" stroke-width="0.6"/>
<line x1="334.20" y1="429.80" x2="334.20" y2="431.10" stroke="#000" stroke-width="0.6"/>
<line x1="335.00" y1="429.80" x2="335.00" y2="432.20" stroke="#000" stroke-width="0.8"/>
<line x1="340.27" y1="429.80" x2="340.27" y2="431.10" stroke="#000" stroke-width="0.6"/>
<line x1="343.35" y1="429.80" x2="343.35" y2="431.10" stroke="#000" stroke-width="0.6"/>
<line x1="345.54" y1="429.80" x2="345.54" y2="431.10" stroke="#000" stroke-width="0.6"/>
<line x1="347.23" y1="429.80" x2="347.23" y2="431.10" stroke="#000" stroke-width="0.6"/>
<line x1="348.62" y1="429.80" x2="348.62" y2="431.10" stroke="#000" stroke-width="0.6"/>
<line x1="349.79" y1="429.80" x2="349.79" y2="431.10" stroke="#000" stroke-width="0.6"/>
<line x1="350.80" y1="429.80" x2="350.80" y2="431.10" stroke="#000" stroke-width="0.6"/>
<line x1="351.70" y1="429.80" x2="351.70" y2="431.10" stroke="#000" stroke-width="0.6"/>
<line x1="352.50" y1="429.80" x2="352.50" y2="432.20" stroke="#000" stroke-width="0.8"/>
<line x1="357.77" y1="429.80" x2="357.77" y2="431.10" stroke="#000" stroke-width="0.6"/>
<line x1="360.85" y1="429.80" x2="360.85" y2="431.10" stroke="#000" stroke-width="0.6"/>
<line x1="363.04" y1="429.80" x2="363.04" y2="431.10" stroke="#000" stroke-width="0.6"/>
<line x1="364.73" y1="429.80" x2="364.73" y2="431.10" stroke="#000" stroke-width="0.6"/>
<line x1="366.12" y1="429.80" x2="366.12" y2="431.10" stroke="#000" stroke-width="0.6"/>
<line x1="367.29" y1="429.80" x2="367.29" y2="431.10" stroke="#000" stroke-width="0.6"/>
<line x1="368.30" y1="429.80" x2="368.30" y2="431.10" stroke="#000" stroke-width="0.6"/>
<line x1="369.20" y1="429.80" x2="369.20" y2="431.10" stroke="#000" stroke-width="0.6"/>
<line x1="370.00" y1="429.80" x2="370.00" y2="432.20" stroke="#000" stroke-width="0.8"/>
<line x1="375.27" y1="429.80" x2="375.27" y2="431.10" stroke="#000" stroke-width="0.6"/>
<line x1="378.35" y1="429.80" x2="378.35" y2="431.10" stroke="#000" stroke-width="0.6"/>
<line x1="380.54" y1="429.80" x2="380.54" y2="431.10" stroke="#000" stroke-width="0.6"/>
<line x1="382.23" y1="429.80" x2="382.23" y2="431.10" stroke="#000" stroke-width="0.6"/>
<line x1="383.62" y1="429.80" x2="383.62" y2="431.10" stroke="#000" stroke-width="0.6"/>
<line x1="384.79" y1="429.80" x2="384.79" y2="431.10" stroke="#000" stroke-width="0.6"/>
<line x1="385.80" y1="429.80" x2="385.80" y2="431.10" stroke="#000" stroke-width="0.6"/>
<line x1="386.70" y1="429.80" x2="386.70" y2="431.10" stroke="#000" stroke-width="0.6"/>
<line x1="387.50" y1="429.80" x2="387.50" y2="432.20" stroke="#000" stroke-width="0.8"/>
<line x1="391.86" y1="429.80" x2="391.86" y2="431.10" stroke="#000" stroke-width="0.6"/>
<line x1="394.42" y1="429.80" x2="394.42" y2="431.10" stroke="#000" stroke-width="0.6"/>
<line x1="396.23" y1="429.80" x2="396.23" y2="431.10" stroke="#000" stroke-width="0.6"/>
<line x1="397.64" y1="429.80" x2="397.64" y2="431.10" stroke="#000" stroke-width="0.6"/>
<line x1="398.78" y1="429.80" x2="398.78" y2="431.10" stroke="#000" stroke-width="0.6"/>
<line x1="399.75" y1="429.80" x2="399.75" y2="431.10" stroke="#000" stroke-width="0.6"/>
<line x1="400.59" y1="429.80" x2="400.59" y2="431.10" stroke="#000" stroke-width="0.6"/>
<line x1="401.34" y1="429.80" x2="401.34" y2="431.10" stroke="#000" stroke-width="0.6"/>
<line x1="402.00" y1="429.80" x2="402.00" y2="432.20" stroke="#000" stroke-width="0.8"/>
<line x1="308.40" y1="411.00" x2="308.40" y2="429.80" stroke="#000" stroke-width="1.5"/>
<path d="M341.00,429.80 L341.00,429.60 L343.40,424.00 L344.40,413.00 L345.60,400.00 L346.90,386.25 L348.75,370.00 L349.80,358.00 L350.60,348.75 L352.50,339.60 L355.00,345.00 L356.90,355.00 L358.75,367.50 L360.00,380.00 L361.30,386.00 L362.50,392.50 L365.00,398.75 L368.75,403.75 L371.90,406.50 L374.50,412.00 L377.20,418.80 L380.00,423.00 L382.50,426.30 L385.50,428.30 L388.80,429.40 L388.80,429.80 Z" stroke="none" stroke-width="0" fill="#e7e7e7" stroke-linejoin="round"/>
<path d="M341.00,429.60 L343.40,424.00 L344.40,413.00 L345.60,400.00 L346.90,386.25 L348.75,370.00 L349.80,358.00 L350.60,348.75 L352.50,339.60 L355.00,345.00 L356.90,355.00 L358.75,367.50 L360.00,380.00 L361.30,386.00 L362.50,392.50 L365.00,398.75 L368.75,403.75 L371.90,406.50 L374.50,412.00 L377.20,418.80 L380.00,423.00 L382.50,426.30 L385.50,428.30 L388.80,429.40" stroke="#8a8a8a" stroke-width="0.9" fill="none" stroke-linejoin="round"/>
<path d="M308.00,429.30 L312.70,429.00 L317.50,427.50 L321.20,426.80 L326.25,421.00 L329.00,414.00 L331.25,404.50 L332.25,398.00 L333.10,386.25 L334.40,380.00 L335.40,367.50 L336.25,356.90 L337.50,347.50 L339.00,341.25 L340.60,351.25 L341.90,355.00 L343.10,366.25 L344.40,373.75 L345.60,382.50 L346.50,390.00 L345.80,402.00 L344.00,414.00 L342.20,424.00 L343.50,428.80" stroke="#000" stroke-width="1.3" fill="none" stroke-linejoin="round" stroke-dasharray="1.0,0.7"/>
<path d="M308.00,429.60 L325.00,429.40 L331.70,429.20 L338.00,428.30 L341.30,427.00 L343.20,424.50 L344.40,420.00 L345.60,412.00 L346.50,406.20 L347.60,396.00 L348.75,386.25 L350.60,371.25 L351.60,361.00 L352.50,352.50 L354.00,345.00 L355.60,341.25 L357.50,350.00 L359.40,358.75 L361.25,346.25 L362.50,356.25 L364.40,370.00 L366.25,373.00 L368.10,380.00 L369.40,378.00 L371.90,388.75 L374.20,397.00 L377.00,402.50 L379.40,407.00 L381.40,410.40 L384.00,414.50 L386.70,418.80 L390.00,423.00 L393.10,426.30 L396.00,428.00 L399.40,429.00 L402.30,429.40" stroke="#000" stroke-width="1.35" fill="none" stroke-linejoin="round"/>
<rect x="421.90" y="335.40" width="93.50" height="93.60" fill="none" stroke="#000" stroke-width="1.1"/>
<line x1="419.70" y1="340.20" x2="421.90" y2="340.20" stroke="#000" stroke-width="1.0"/>
<text x="415.60" y="341.70" font-size="4.4" text-anchor="end" font-weight="bold">100</text>
<line x1="419.70" y1="357.96" x2="421.90" y2="357.96" stroke="#000" stroke-width="1.0"/>
<text x="415.60" y="359.46" font-size="4.4" text-anchor="end" font-weight="bold">80</text>
<line x1="419.70" y1="375.72" x2="421.90" y2="375.72" stroke="#000" stroke-width="1.0"/>
<text x="415.60" y="377.22" font-size="4.4" text-anchor="end" font-weight="bold">60</text>
<line x1="419.70" y1="393.48" x2="421.90" y2="393.48" stroke="#000" stroke-width="1.0"/>
<text x="415.60" y="394.98" font-size="4.4" text-anchor="end" font-weight="bold">40</text>
<line x1="419.70" y1="411.24" x2="421.90" y2="411.24" stroke="#000" stroke-width="1.0"/>
<text x="415.60" y="412.74" font-size="4.4" text-anchor="end" font-weight="bold">20</text>
<line x1="419.70" y1="429.00" x2="421.90" y2="429.00" stroke="#000" stroke-width="1.0"/>
<text x="415.60" y="430.50" font-size="4.4" text-anchor="end" font-weight="bold">0</text>
<line x1="420.90" y1="340.20" x2="421.90" y2="340.20" stroke="#000" stroke-width="0.6"/>
<line x1="420.90" y1="344.64" x2="421.90" y2="344.64" stroke="#000" stroke-width="0.6"/>
<line x1="420.90" y1="349.08" x2="421.90" y2="349.08" stroke="#000" stroke-width="0.6"/>
<line x1="420.90" y1="353.52" x2="421.90" y2="353.52" stroke="#000" stroke-width="0.6"/>
<line x1="420.90" y1="357.96" x2="421.90" y2="357.96" stroke="#000" stroke-width="0.6"/>
<line x1="420.90" y1="362.40" x2="421.90" y2="362.40" stroke="#000" stroke-width="0.6"/>
<line x1="420.90" y1="366.84" x2="421.90" y2="366.84" stroke="#000" stroke-width="0.6"/>
<line x1="420.90" y1="371.28" x2="421.90" y2="371.28" stroke="#000" stroke-width="0.6"/>
<line x1="420.90" y1="375.72" x2="421.90" y2="375.72" stroke="#000" stroke-width="0.6"/>
<line x1="420.90" y1="380.16" x2="421.90" y2="380.16" stroke="#000" stroke-width="0.6"/>
<line x1="420.90" y1="384.60" x2="421.90" y2="384.60" stroke="#000" stroke-width="0.6"/>
<line x1="420.90" y1="389.04" x2="421.90" y2="389.04" stroke="#000" stroke-width="0.6"/>
<line x1="420.90" y1="393.48" x2="421.90" y2="393.48" stroke="#000" stroke-width="0.6"/>
<line x1="420.90" y1="397.92" x2="421.90" y2="397.92" stroke="#000" stroke-width="0.6"/>
<line x1="420.90" y1="402.36" x2="421.90" y2="402.36" stroke="#000" stroke-width="0.6"/>
<line x1="420.90" y1="406.80" x2="421.90" y2="406.80" stroke="#000" stroke-width="0.6"/>
<line x1="420.90" y1="411.24" x2="421.90" y2="411.24" stroke="#000" stroke-width="0.6"/>
<line x1="420.90" y1="415.68" x2="421.90" y2="415.68" stroke="#000" stroke-width="0.6"/>
<line x1="420.90" y1="420.12" x2="421.90" y2="420.12" stroke="#000" stroke-width="0.6"/>
<line x1="420.90" y1="424.56" x2="421.90" y2="424.56" stroke="#000" stroke-width="0.6"/>
<text x="425.80" y="437.90" font-size="4.4" text-anchor="middle" font-weight="bold">0</text>
<text x="436.70" y="437.90" font-size="4.4" font-weight="bold">10<tspan dx="1.3" dy="-2.2" font-size="3.2">1</tspan></text>
<text x="454.00" y="437.90" font-size="4.4" font-weight="bold">10<tspan dx="1.3" dy="-2.2" font-size="3.2">2</tspan></text>
<text x="471.40" y="437.90" font-size="4.4" font-weight="bold">10<tspan dx="1.3" dy="-2.2" font-size="3.2">3</tspan></text>
<text x="488.70" y="437.90" font-size="4.4" font-weight="bold">10<tspan dx="1.3" dy="-2.2" font-size="3.2">4</tspan></text>
<text x="506.00" y="437.90" font-size="4.4" font-weight="bold">10<tspan dx="1.3" dy="-2.2" font-size="3.2">5</tspan></text>
<line x1="423.00" y1="429.00" x2="423.00" y2="431.40" stroke="#000" stroke-width="0.8"/>
<line x1="431.50" y1="429.00" x2="431.50" y2="431.40" stroke="#000" stroke-width="0.8"/>
<line x1="436.77" y1="429.00" x2="436.77" y2="430.30" stroke="#000" stroke-width="0.6"/>
<line x1="439.85" y1="429.00" x2="439.85" y2="430.30" stroke="#000" stroke-width="0.6"/>
<line x1="442.04" y1="429.00" x2="442.04" y2="430.30" stroke="#000" stroke-width="0.6"/>
<line x1="443.73" y1="429.00" x2="443.73" y2="430.30" stroke="#000" stroke-width="0.6"/>
<line x1="445.12" y1="429.00" x2="445.12" y2="430.30" stroke="#000" stroke-width="0.6"/>
<line x1="446.29" y1="429.00" x2="446.29" y2="430.30" stroke="#000" stroke-width="0.6"/>
<line x1="447.30" y1="429.00" x2="447.30" y2="430.30" stroke="#000" stroke-width="0.6"/>
<line x1="448.20" y1="429.00" x2="448.20" y2="430.30" stroke="#000" stroke-width="0.6"/>
<line x1="449.00" y1="429.00" x2="449.00" y2="431.40" stroke="#000" stroke-width="0.8"/>
<line x1="454.27" y1="429.00" x2="454.27" y2="430.30" stroke="#000" stroke-width="0.6"/>
<line x1="457.35" y1="429.00" x2="457.35" y2="430.30" stroke="#000" stroke-width="0.6"/>
<line x1="459.54" y1="429.00" x2="459.54" y2="430.30" stroke="#000" stroke-width="0.6"/>
<line x1="461.23" y1="429.00" x2="461.23" y2="430.30" stroke="#000" stroke-width="0.6"/>
<line x1="462.62" y1="429.00" x2="462.62" y2="430.30" stroke="#000" stroke-width="0.6"/>
<line x1="463.79" y1="429.00" x2="463.79" y2="430.30" stroke="#000" stroke-width="0.6"/>
<line x1="464.80" y1="429.00" x2="464.80" y2="430.30" stroke="#000" stroke-width="0.6"/>
<line x1="465.70" y1="429.00" x2="465.70" y2="430.30" stroke="#000" stroke-width="0.6"/>
<line x1="466.50" y1="429.00" x2="466.50" y2="431.40" stroke="#000" stroke-width="0.8"/>
<line x1="471.77" y1="429.00" x2="471.77" y2="430.30" stroke="#000" stroke-width="0.6"/>
<line x1="474.85" y1="429.00" x2="474.85" y2="430.30" stroke="#000" stroke-width="0.6"/>
<line x1="477.04" y1="429.00" x2="477.04" y2="430.30" stroke="#000" stroke-width="0.6"/>
<line x1="478.73" y1="429.00" x2="478.73" y2="430.30" stroke="#000" stroke-width="0.6"/>
<line x1="480.12" y1="429.00" x2="480.12" y2="430.30" stroke="#000" stroke-width="0.6"/>
<line x1="481.29" y1="429.00" x2="481.29" y2="430.30" stroke="#000" stroke-width="0.6"/>
<line x1="482.30" y1="429.00" x2="482.30" y2="430.30" stroke="#000" stroke-width="0.6"/>
<line x1="483.20" y1="429.00" x2="483.20" y2="430.30" stroke="#000" stroke-width="0.6"/>
<line x1="484.00" y1="429.00" x2="484.00" y2="431.40" stroke="#000" stroke-width="0.8"/>
<line x1="489.27" y1="429.00" x2="489.27" y2="430.30" stroke="#000" stroke-width="0.6"/>
<line x1="492.35" y1="429.00" x2="492.35" y2="430.30" stroke="#000" stroke-width="0.6"/>
<line x1="494.54" y1="429.00" x2="494.54" y2="430.30" stroke="#000" stroke-width="0.6"/>
<line x1="496.23" y1="429.00" x2="496.23" y2="430.30" stroke="#000" stroke-width="0.6"/>
<line x1="497.62" y1="429.00" x2="497.62" y2="430.30" stroke="#000" stroke-width="0.6"/>
<line x1="498.79" y1="429.00" x2="498.79" y2="430.30" stroke="#000" stroke-width="0.6"/>
<line x1="499.80" y1="429.00" x2="499.80" y2="430.30" stroke="#000" stroke-width="0.6"/>
<line x1="500.70" y1="429.00" x2="500.70" y2="430.30" stroke="#000" stroke-width="0.6"/>
<line x1="501.50" y1="429.00" x2="501.50" y2="431.40" stroke="#000" stroke-width="0.8"/>
<line x1="505.56" y1="429.00" x2="505.56" y2="430.30" stroke="#000" stroke-width="0.6"/>
<line x1="507.94" y1="429.00" x2="507.94" y2="430.30" stroke="#000" stroke-width="0.6"/>
<line x1="509.63" y1="429.00" x2="509.63" y2="430.30" stroke="#000" stroke-width="0.6"/>
<line x1="510.94" y1="429.00" x2="510.94" y2="430.30" stroke="#000" stroke-width="0.6"/>
<line x1="512.01" y1="429.00" x2="512.01" y2="430.30" stroke="#000" stroke-width="0.6"/>
<line x1="512.91" y1="429.00" x2="512.91" y2="430.30" stroke="#000" stroke-width="0.6"/>
<line x1="513.69" y1="429.00" x2="513.69" y2="430.30" stroke="#000" stroke-width="0.6"/>
<line x1="514.38" y1="429.00" x2="514.38" y2="430.30" stroke="#000" stroke-width="0.6"/>
<line x1="515.00" y1="429.00" x2="515.00" y2="431.40" stroke="#000" stroke-width="0.8"/>
<line x1="422.40" y1="359.50" x2="422.40" y2="429.00" stroke="#000" stroke-width="1.5"/>
<path d="M426.00,429.00 L426.00,429.00 L435.00,427.50 L441.00,425.00 L445.00,422.50 L448.80,419.60 L451.00,412.00 L452.50,405.00 L453.80,393.00 L455.00,380.00 L456.30,370.00 L457.50,361.25 L458.80,354.00 L460.00,348.75 L461.25,343.75 L462.20,352.00 L463.00,361.25 L464.00,370.00 L465.00,377.50 L466.20,385.00 L467.50,390.00 L470.00,398.00 L472.50,401.50 L474.80,403.50 L477.20,407.50 L479.60,411.90 L482.00,415.50 L484.40,418.70 L489.20,422.50 L495.00,426.90 L500.80,428.50 L505.00,429.00 L505.00,429.00 Z" stroke="none" stroke-width="0" fill="#e7e7e7" stroke-linejoin="round"/>
<path d="M426.00,429.00 L435.00,427.50 L441.00,425.00 L445.00,422.50 L448.80,419.60 L451.00,412.00 L452.50,405.00 L453.80,393.00 L455.00,380.00 L456.30,370.00 L457.50,361.25 L458.80,354.00 L460.00,348.75 L461.25,343.75 L462.20,352.00 L463.00,361.25 L464.00,370.00 L465.00,377.50 L466.20,385.00 L467.50,390.00 L470.00,398.00 L472.50,401.50 L474.80,403.50 L477.20,407.50 L479.60,411.90 L482.00,415.50 L484.40,418.70 L489.20,422.50 L495.00,426.90 L500.80,428.50 L505.00,429.00" stroke="#8a8a8a" stroke-width="0.9" fill="none" stroke-linejoin="round"/>
<path d="M422.20,429.00 L428.00,428.60 L435.40,426.30 L440.20,422.50 L442.50,417.50 L444.00,411.90 L445.60,405.00 L446.90,394.60 L448.10,390.00 L449.40,376.25 L450.00,361.25 L451.25,346.25 L452.75,342.50 L454.50,348.75 L456.25,340.60 L457.50,350.00 L458.50,356.00 L460.00,352.00 L461.00,341.00 L462.50,350.00" stroke="#000" stroke-width="1.3" fill="none" stroke-linejoin="round" stroke-dasharray="1.0,0.7"/>
<path d="M422.20,429.00 L427.70,428.30 L435.40,426.30 L441.20,423.50 L445.00,419.60 L447.30,413.00 L449.50,404.50 L451.00,399.00 L452.25,393.75 L453.50,383.75 L454.40,367.50 L455.60,357.50 L456.10,348.75 L456.50,341.25 L457.50,355.00 L458.75,358.75 L459.75,351.25 L461.00,340.60 L463.10,352.50 L464.40,362.50 L465.25,372.50 L466.25,380.00 L467.25,367.50 L468.10,358.75 L470.00,357.50 L470.60,348.75 L471.60,340.60 L473.10,355.00 L475.00,362.50 L476.90,356.25 L477.75,368.75 L478.75,387.50 L480.60,388.75 L481.50,396.50 L482.50,400.00 L484.40,402.30 L487.30,408.00 L489.20,415.80 L492.10,421.50 L496.90,425.40 L502.70,427.70 L510.40,428.60 L515.30,429.00" stroke="#000" stroke-width="1.35" fill="none" stroke-linejoin="round"/>
<rect x="198.2" y="341.6" width="80.6" height="43.6" fill="#fff" stroke="#000" stroke-width="1.1"/>
<line x1="207.70" y1="353.20" x2="225.00" y2="353.20" stroke="#000" stroke-width="1.5" stroke-dasharray="4.4,2.05"/>
<line x1="207.70" y1="364.00" x2="225.00" y2="364.00" stroke="#000" stroke-width="1.5"/>
<rect x="208.1" y="372.4" width="19.0" height="8.0" fill="#b4b4b4" stroke="#a0a0a0" stroke-width="0.6"/>
<text x="230.00" y="356.40" font-size="9.7" text-anchor="start" textLength="44.60" lengthAdjust="spacingAndGlyphs">WT, no Tx</text>
<text x="230.80" y="367.80" font-size="9.7" text-anchor="start" textLength="20.40" lengthAdjust="spacingAndGlyphs">Tcon</text>
<text x="232.70" y="380.20" font-size="9.7" text-anchor="start" textLength="20.30" lengthAdjust="spacingAndGlyphs">ECP</text>
<text x="161.00" y="482.70" font-size="11.8" text-anchor="start" font-weight="bold">E</text>
<line x1="192.75" y1="483.00" x2="192.75" y2="595.10" stroke="#000" stroke-width="1.15"/>
<line x1="192.25" y1="594.60" x2="347.20" y2="594.60" stroke="#000" stroke-width="1.15"/>
<line x1="190.15" y1="483.50" x2="192.75" y2="483.50" stroke="#000" stroke-width="1.0"/>
<text x="189.40" y="486.00" font-size="7.0" text-anchor="end" textLength="10.80" lengthAdjust="spacingAndGlyphs">100</text>
<line x1="190.15" y1="505.72" x2="192.75" y2="505.72" stroke="#000" stroke-width="1.0"/>
<text x="189.40" y="508.22" font-size="7.0" text-anchor="end" textLength="7.20" lengthAdjust="spacingAndGlyphs">80</text>
<line x1="190.15" y1="527.94" x2="192.75" y2="527.94" stroke="#000" stroke-width="1.0"/>
<text x="189.40" y="530.44" font-size="7.0" text-anchor="end" textLength="7.20" lengthAdjust="spacingAndGlyphs">60</text>
<line x1="190.15" y1="550.16" x2="192.75" y2="550.16" stroke="#000" stroke-width="1.0"/>
<text x="189.40" y="552.66" font-size="7.0" text-anchor="end" textLength="7.20" lengthAdjust="spacingAndGlyphs">40</text>
<line x1="190.15" y1="572.38" x2="192.75" y2="572.38" stroke="#000" stroke-width="1.0"/>
<text x="189.40" y="574.88" font-size="7.0" text-anchor="end" textLength="7.20" lengthAdjust="spacingAndGlyphs">20</text>
<line x1="190.15" y1="594.60" x2="192.75" y2="594.60" stroke="#000" stroke-width="1.0"/>
<text x="189.40" y="597.10" font-size="7.0" text-anchor="end" textLength="3.60" lengthAdjust="spacingAndGlyphs">0</text>
<line x1="192.75" y1="594.60" x2="192.75" y2="597.40" stroke="#000" stroke-width="1.0"/>
<text x="193.05" y="604.70" font-size="7.0" text-anchor="middle" textLength="3.90" lengthAdjust="spacingAndGlyphs">0</text>
<line x1="243.55" y1="594.60" x2="243.55" y2="597.40" stroke="#000" stroke-width="1.0"/>
<text x="243.85" y="604.70" font-size="7.0" text-anchor="middle" textLength="7.80" lengthAdjust="spacingAndGlyphs">20</text>
<line x1="294.35" y1="594.60" x2="294.35" y2="597.40" stroke="#000" stroke-width="1.0"/>
<text x="294.65" y="604.70" font-size="7.0" text-anchor="middle" textLength="7.80" lengthAdjust="spacingAndGlyphs">40</text>
<line x1="345.15" y1="594.60" x2="345.15" y2="597.40" stroke="#000" stroke-width="1.0"/>
<text x="345.45" y="604.70" font-size="7.0" text-anchor="middle" textLength="7.80" lengthAdjust="spacingAndGlyphs">60</text>
<text transform="translate(178.70,537.30) rotate(-90)" x="0" y="0" font-size="8.7" text-anchor="middle" textLength="39.50" lengthAdjust="spacingAndGlyphs">% survival</text>
<text x="237.60" y="614.90" font-size="8.8" text-anchor="start" textLength="75.10" lengthAdjust="spacingAndGlyphs">day after transplant</text>
<path d="M192.75,483.50 L210.60,483.50 L210.60,539.05 L223.75,539.05 L223.75,566.83 L228.10,566.83 L228.10,594.60" stroke="#9a9a9a" stroke-width="0.8" fill="none" stroke-linejoin="round" stroke-dasharray="1,0.8"/>
<path d="M192.75,483.50 L210.60,483.50 L210.60,511.27 L218.10,511.27 L218.10,539.05 L223.10,539.05 L223.10,594.60" stroke="#9a9a9a" stroke-width="0.8" fill="none" stroke-linejoin="round" stroke-dasharray="1,0.8"/>
<path d="M225.60,527.94 L225.60,550.16 L269.00,550.16 L269.00,572.38 L291.90,572.38 L291.90,594.60" stroke="#000" stroke-width="1.0" fill="none" stroke-linejoin="round" stroke-dasharray="3,1.3,1,1.3"/>
<path d="M215.40,505.72 L215.40,527.94 L256.40,527.94 L256.40,550.16 L256.50,550.16" stroke="#000" stroke-width="1.0" fill="none" stroke-linejoin="round" stroke-dasharray="2.2,1.4"/>
<path d="M269.00,572.38 L297.00,572.38 L297.00,594.60" stroke="#000" stroke-width="1.0" fill="none" stroke-linejoin="round" stroke-dasharray="2.2,1.4"/>
<path d="M225.60,505.72 L225.60,527.94 L258.80,527.94 L258.80,572.38 L269.00,572.38 L269.00,594.60" stroke="#000" stroke-width="1.1" fill="none" stroke-linejoin="round" stroke-dasharray="2.6,1.3"/>
<path d="M215.40,483.50 L215.40,505.72 L297.00,505.72 L297.00,527.94 L299.40,527.94 L299.40,550.16 L340.00,550.16 L340.00,572.38 L345.40,572.38" stroke="#000" stroke-width="1.0" fill="none" stroke-linejoin="round"/>
<line x1="192.75" y1="483.50" x2="345.40" y2="483.50" stroke="#000" stroke-width="1.0"/>
<circle cx="210.60" cy="511.27" r="2.75" fill="#fff" stroke="#000" stroke-width="0.9"/>
<circle cx="218.10" cy="539.05" r="2.75" fill="#fff" stroke="#000" stroke-width="0.9"/>
<circle cx="223.10" cy="594.60" r="2.75" fill="#fff" stroke="#000" stroke-width="0.9"/>
<path d="M207.80,536.25 L213.40,541.85 M213.40,536.25 L207.80,541.85" stroke="#000" stroke-width="0.9"/>
<path d="M220.95,564.03 L226.55,569.62 M226.55,564.03 L220.95,569.62" stroke="#000" stroke-width="0.9"/>
<path d="M225.30,591.80 L230.90,597.40 M230.90,591.80 L225.30,597.40" stroke="#000" stroke-width="0.9"/>
<rect x="212.90" y="525.44" width="5.0" height="5.0" fill="#fff" stroke="#000" stroke-width="0.9"/>
<rect x="253.90" y="547.66" width="5.0" height="5.0" fill="#fff" stroke="#000" stroke-width="0.9"/>
<rect x="266.50" y="569.88" width="5.0" height="5.0" fill="#fff" stroke="#000" stroke-width="0.9"/>
<rect x="294.50" y="592.10" width="5.0" height="5.0" fill="#fff" stroke="#000" stroke-width="0.9"/>
<path d="M225.60,547.56 L228.20,550.16 L225.60,552.76 L223.00,550.16 Z" fill="#fff" stroke="#000" stroke-width="0.9"/>
<path d="M269.00,570.18 L271.20,572.38 L269.00,574.58 L266.80,572.38 Z" fill="#fff" stroke="#000" stroke-width="0.9"/>
<path d="M291.90,592.00 L294.50,594.60 L291.90,597.20 L289.30,594.60 Z" fill="#fff" stroke="#000" stroke-width="0.9"/>
<rect x="212.90" y="503.22" width="5.0" height="5.0" fill="#000" stroke="#000" stroke-width="0.9"/>
<rect x="223.10" y="525.44" width="5.0" height="5.0" fill="#000" stroke="#000" stroke-width="0.9"/>
<rect x="256.30" y="569.88" width="5.0" height="5.0" fill="#000" stroke="#000" stroke-width="0.9"/>
<rect x="266.50" y="592.10" width="5.0" height="5.0" fill="#000" stroke="#000" stroke-width="0.9"/>
<path d="M297.00,524.86 L299.80,530.18 L294.20,530.18 Z" fill="#fff" stroke="#000" stroke-width="0.9"/>
<path d="M299.40,547.08 L302.20,552.40 L296.60,552.40 Z" fill="#fff" stroke="#000" stroke-width="0.9"/>
<path d="M340.00,569.30 L342.80,574.62 L337.20,574.62 Z" fill="#fff" stroke="#000" stroke-width="0.9"/>
<path d="M345.40,569.30 L348.20,574.62 L342.60,574.62 Z" fill="#fff" stroke="#000" stroke-width="0.9"/>
<circle cx="345.40" cy="483.50" r="2.75" fill="#000" stroke="#000" stroke-width="0.9"/>
<line x1="366.30" y1="499.70" x2="377.30" y2="499.70" stroke="#000" stroke-width="1.0"/>
<circle cx="371.90" cy="499.70" r="2.3" fill="#000" stroke="#000" stroke-width="0.9"/>
<text x="383.80" y="502.30" font-size="8.3" text-anchor="start" textLength="13.10" lengthAdjust="spacing" style="stroke-width:0.15px">BM</text>
<line x1="366.30" y1="512.70" x2="377.30" y2="512.70" stroke="#000" stroke-width="1.0"/>
<rect x="369.60" y="510.40" width="4.6" height="4.6" fill="#000" stroke="#000" stroke-width="0.9"/>
<text x="383.80" y="515.30" font-size="8.3" text-anchor="start" textLength="33.90" lengthAdjust="spacing" style="stroke-width:0.15px">WT Tcon</text>
<line x1="366.30" y1="525.60" x2="377.30" y2="525.60" stroke="#000" stroke-width="1.0"/>
<path d="M371.90,523.23 L374.60,528.36 L369.20,528.36 Z" fill="#fff" stroke="#000" stroke-width="0.9"/>
<text x="383.80" y="528.20" font-size="8.3" text-anchor="start" textLength="33.40" lengthAdjust="spacing" style="stroke-width:0.15px">WT ECP</text>
<line x1="366.30" y1="538.50" x2="377.30" y2="538.50" stroke="#000" stroke-width="1.0"/>
<rect x="369.60" y="536.20" width="4.6" height="4.6" fill="#fff" stroke="#000" stroke-width="0.9"/>
<text x="383.80" y="541.10" font-size="8.3" text-anchor="start" textLength="63.90" lengthAdjust="spacing" style="stroke-width:0.15px">Rec IL10-/- Tcon</text>
<line x1="366.30" y1="551.30" x2="377.30" y2="551.30" stroke="#000" stroke-width="1.0"/>
<path d="M371.90,548.80 L374.40,551.30 L371.90,553.80 L369.40,551.30 Z" fill="#fff" stroke="#000" stroke-width="0.9"/>
<text x="383.80" y="553.90" font-size="8.3" text-anchor="start" textLength="63.40" lengthAdjust="spacing" style="stroke-width:0.15px">Rec IL10-/- ECP</text>
<line x1="366.30" y1="564.20" x2="377.30" y2="564.20" stroke="#999" stroke-width="0.7"/>
<circle cx="371.90" cy="562.70" r="2.3" fill="#fff" stroke="#000" stroke-width="0.9"/>
<text x="383.80" y="566.80" font-size="8.3" text-anchor="start" textLength="64.70" lengthAdjust="spacing" style="stroke-width:0.15px">Don IL10-/- Tcon</text>
<line x1="366.30" y1="577.10" x2="377.30" y2="577.10" stroke="#999" stroke-width="0.7"/>
<path d="M369.60,574.80 L374.20,579.40 M374.20,574.80 L369.60,579.40" stroke="#000" stroke-width="0.9"/>
<text x="383.80" y="579.70" font-size="8.3" text-anchor="start" textLength="63.90" lengthAdjust="spacing" style="stroke-width:0.15px">Don IL10-/- ECP</text>
</svg>
</body></html>
